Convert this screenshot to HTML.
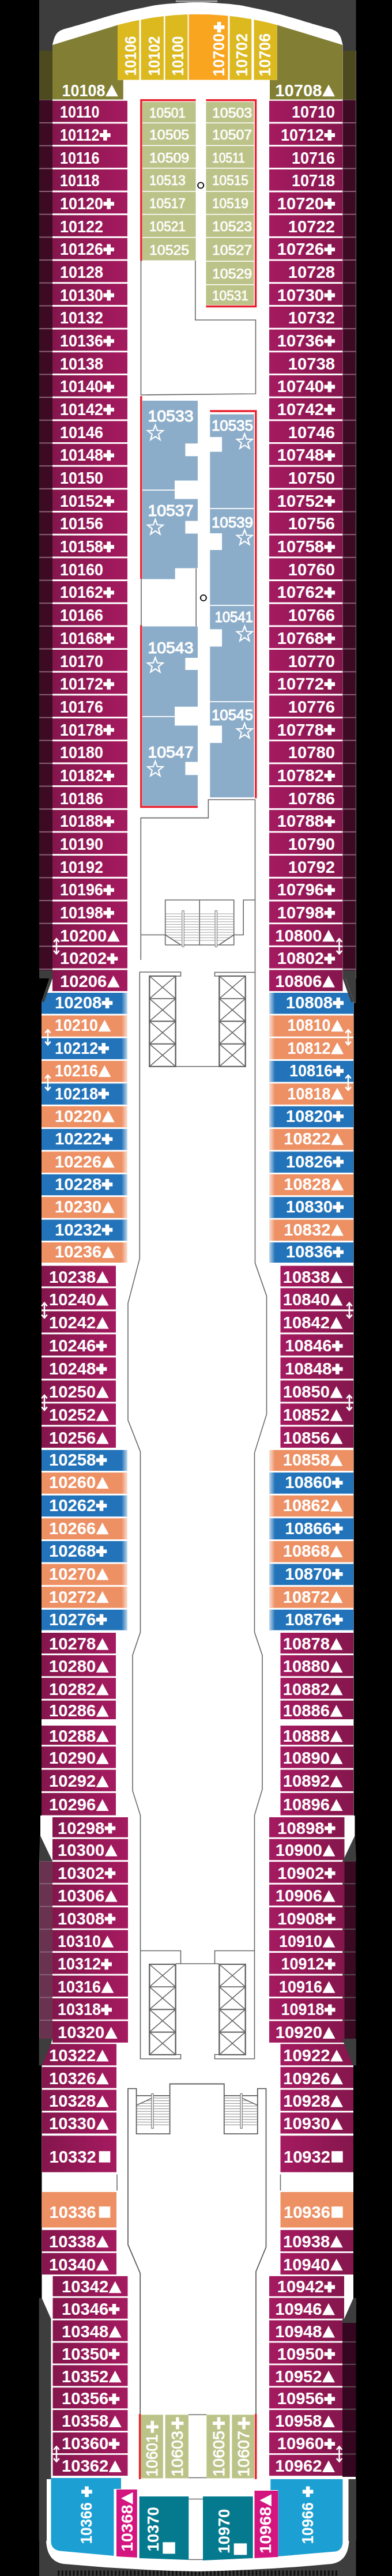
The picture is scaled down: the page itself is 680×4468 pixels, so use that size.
<!DOCTYPE html>
<html><head><meta charset="utf-8"><title>Deck 10</title>
<style>
html,body{margin:0;padding:0;background:#000;}
body{width:680px;height:4468px;overflow:hidden;font-family:"Liberation Sans",sans-serif;}
svg{display:block}
.n{font-family:"Liberation Sans",sans-serif;font-weight:bold;font-size:29.5px;fill:#fff}
.s{font-family:"Liberation Sans",sans-serif;font-weight:normal;font-size:28.4px;fill:#fff;stroke:#fff;stroke-width:1.1}
.s2{font-family:"Liberation Sans",sans-serif;font-weight:normal;font-size:26.5px;fill:#fff;stroke:#fff;stroke-width:1.0}
.v{font-family:"Liberation Sans",sans-serif;font-weight:bold;font-size:28px;fill:#fff}
.g2{fill:none;stroke:#5e5e5e;stroke-width:1.8}
.i{font-family:"Liberation Sans",sans-serif;font-weight:normal;font-size:24px;fill:#fff;stroke:#fff;stroke-width:0.7}
.iv{font-family:"Liberation Sans",sans-serif;font-weight:normal;font-size:27.6px;fill:#fff;stroke:#fff;stroke-width:0.8}
.pv{font-family:"Liberation Sans",sans-serif;font-weight:bold;font-size:22px;fill:#fff}
.g{fill:none;stroke:#686868;stroke-width:1.6}
.r{fill:none;stroke:#e8202f;stroke-width:3.4}
</style></head><body>
<svg width="680" height="4468" viewBox="0 0 680 4468">
<defs>
<linearGradient id="pl" x1="0" x2="1" y1="0" y2="0"><stop offset="0" stop-color="#84164c"/><stop offset="1" stop-color="#a51a60"/></linearGradient>
<linearGradient id="pr" x1="0" x2="1" y1="0" y2="0"><stop offset="0" stop-color="#a51a60"/><stop offset="1" stop-color="#84164c"/></linearGradient>
<linearGradient id="fw" x1="0" x2="1" y1="0" y2="0"><stop offset="0" stop-color="#fff" stop-opacity="0"/><stop offset="1" stop-color="#fff" stop-opacity="0.75"/></linearGradient>
<linearGradient id="fw2" x1="0" x2="1" y1="0" y2="0"><stop offset="0" stop-color="#fff" stop-opacity="0.75"/><stop offset="1" stop-color="#fff" stop-opacity="0"/></linearGradient>
</defs>

<rect x="68" y="0" width="549.5" height="92" fill="#3d3d3d"/>
<rect x="68" y="4296" width="549.5" height="172" fill="#3d3d3d"/>
<rect x="596" y="1690" width="21.5" height="50" fill="#3d3d3d"/>
<path d="M100,4463 L586,4463" stroke="#111" stroke-width="9" stroke-dasharray="3.2 3.4" fill="none"/>
<rect x="304" y="0" width="74" height="4.2" fill="#a6a6a6" stroke="#2a2a2a" stroke-width="1.2"/>
<clipPath id="hc"><path d="M68,88 L91,88 L91,77.5 C91.8,74.9 93.5,66.2 96.0,62.0 C98.5,57.8 99.7,55.5 106.0,52.5 C112.3,49.5 118.2,48.7 134.0,44.0 C149.8,39.3 182.0,29.4 200.5,24.4 C219.0,19.4 231.4,16.8 245.0,14.0 C258.6,11.2 265.7,9.2 282.0,7.5 C298.3,5.8 322.4,4.0 342.7,4.0 C363.0,4.0 387.3,5.8 403.6,7.5 C419.9,9.2 427.0,11.2 440.6,14.0 C454.2,16.8 466.6,19.4 485.1,24.4 C503.6,29.4 535.9,39.3 551.6,44.0 C567.4,48.7 573.3,49.5 579.6,52.5 C585.9,55.5 587.1,57.8 589.6,62.0 C592.1,66.2 593.8,74.9 594.6,77.5 L594.5,88 L617.5,88 L617.5,1697 L599.5,1697 L613.5,1738 L613.5,3149 L615.5,3149 L615.5,3184 L617.0,3226 L617.0,3582 L613.0,3582 L613.0,3943 L613.0,3986 L617.0,4022 L617.0,4406 L605.5,4406 C604.5,4432 593.5,4444 575.5,4447 Q459.5,4458 342.7,4460 Q226,4458 110,4447 C92,4444 81,4432 80,4406 L68.5,4406 L68.5,4022 L72.5,3986 L72.5,3943 L72.5,3582 L68.5,3582 L68.5,3226 L70,3184 L70,3149 L72,3149 L72,1738 L86,1697 L68,1697 L68,88 Z"/></clipPath>
<path d="M68,88 L91,88 L91,77.5 C91.8,74.9 93.5,66.2 96.0,62.0 C98.5,57.8 99.7,55.5 106.0,52.5 C112.3,49.5 118.2,48.7 134.0,44.0 C149.8,39.3 182.0,29.4 200.5,24.4 C219.0,19.4 231.4,16.8 245.0,14.0 C258.6,11.2 265.7,9.2 282.0,7.5 C298.3,5.8 322.4,4.0 342.7,4.0 C363.0,4.0 387.3,5.8 403.6,7.5 C419.9,9.2 427.0,11.2 440.6,14.0 C454.2,16.8 466.6,19.4 485.1,24.4 C503.6,29.4 535.9,39.3 551.6,44.0 C567.4,48.7 573.3,49.5 579.6,52.5 C585.9,55.5 587.1,57.8 589.6,62.0 C592.1,66.2 593.8,74.9 594.6,77.5 L594.5,88 L617.5,88 L617.5,1697 L599.5,1697 L613.5,1738 L613.5,3149 L615.5,3149 L615.5,3184 L617.0,3226 L617.0,3582 L613.0,3582 L613.0,3943 L613.0,3986 L617.0,4022 L617.0,4406 L605.5,4406 C604.5,4432 593.5,4444 575.5,4447 Q459.5,4458 342.7,4460 Q226,4458 110,4447 C92,4444 81,4432 80,4406 L68.5,4406 L68.5,4022 L72.5,3986 L72.5,3943 L72.5,3582 L68.5,3582 L68.5,3226 L70,3184 L70,3149 L72,3149 L72,1738 L86,1697 L68,1697 L68,88 Z" fill="#fff"/>
<path fill="#4d4a20" d="M68,88 L91,88 L91,173 L68,173Z"/>
<path fill="#827f35" d="M91,78 L204,43.5 L204,138.5 L213.8,138.5 L213.8,172.5 L91,172.5Z"/>
<path fill="#4d4a20" d="M617.5,88 L594.5,88 L594.5,173 L617.5,173Z"/>
<path fill="#827f35" d="M594.5,78 L480.5,43.2 L480.5,138.5 L468,138.5 L468,172.5 L594.5,172.5Z"/>
<text x="107.5" y="166.6" class="n" textLength="74.9" lengthAdjust="spacingAndGlyphs">10108</text>
<path fill="#fff" d="M182.9,167.3L193.9,146.8L204.9,167.3z"/>
<path fill="#fff" d="M559.0,167.3L570.0,146.8L581.0,167.3z"/>
<text x="477.3" y="166.6" class="n" textLength="81.2" lengthAdjust="spacingAndGlyphs">10708</text>
<path fill="#dcb91f" d="M204,138.5 L204.0,43.5 L210.2,41.8 L216.5,40.2 L222.8,38.8 L229.0,37.3 L235.2,36.0 L241.5,34.7 L241.5,138.5Z"/>
<path fill="#dcb91f" d="M244.5,138.5 L244.5,34.2 L251.1,32.9 L257.7,31.8 L264.2,30.8 L270.8,29.8 L277.4,28.9 L284.0,28.1 L284,138.5Z"/>
<path fill="#dcb91f" d="M286.5,138.5 L286.5,27.9 L293.0,27.2 L299.5,26.6 L306.0,26.1 L312.5,25.7 L319.0,25.3 L325.5,25.1 L325.5,138.5Z"/>
<path fill="#f9a51f" d="M327.5,138.5 L327.5,25.0 L338.8,24.8 L350.2,24.9 L361.5,25.1 L372.8,25.7 L384.2,26.5 L395.5,27.5 L395.5,138.5Z"/>
<path fill="#dcb91f" d="M398.5,138.5 L398.5,27.8 L404.8,28.5 L411.1,29.3 L417.4,30.2 L423.7,31.2 L430.0,32.2 L436.3,33.3 L436.3,138.5Z"/>
<path fill="#dcb91f" d="M440.5,138.5 L440.5,34.1 L447.2,35.4 L453.8,36.8 L460.5,38.3 L467.2,39.8 L473.8,41.5 L480.5,43.2 L480.5,138.5Z"/>
<text transform="translate(235.8,131.5) rotate(-90)" class="v" textLength="68.9" lengthAdjust="spacingAndGlyphs">10106</text>
<text transform="translate(276.9,131.5) rotate(-90)" class="v" textLength="68.9" lengthAdjust="spacingAndGlyphs">10102</text>
<text transform="translate(317.9,131.5) rotate(-90)" class="v" textLength="68.9" lengthAdjust="spacingAndGlyphs">10100</text>
<text transform="translate(388.9,132.5) rotate(-90)" class="v" textLength="74.7" lengthAdjust="spacingAndGlyphs">10700</text>
<path fill="#fff" d="M370.8,44.0h6.0v-6.0h6.6v6.0h6.0v6.6h-6.0v6.0h-6.6v-6.0h-6.0z"/>
<text transform="translate(428.6,132.5) rotate(-90)" class="v" textLength="74.7" lengthAdjust="spacingAndGlyphs">10702</text>
<text transform="translate(469.3,132.5) rotate(-90)" class="v" textLength="74.7" lengthAdjust="spacingAndGlyphs">10706</text>
<g clip-path="url(#hc)">
<rect x="68" y="173.3" width="23" height="1509.7" fill="#3c0a23"/>
<rect x="68" y="212.0" width="23" height="2" fill="#8a6078"/>
<rect x="68" y="251.7" width="23" height="2" fill="#8a6078"/>
<rect x="68" y="291.3" width="23" height="2" fill="#8a6078"/>
<rect x="68" y="331.0" width="23" height="2" fill="#8a6078"/>
<rect x="68" y="370.7" width="23" height="2" fill="#8a6078"/>
<rect x="68" y="410.4" width="23" height="2" fill="#8a6078"/>
<rect x="68" y="450.0" width="23" height="2" fill="#8a6078"/>
<rect x="68" y="489.7" width="23" height="2" fill="#8a6078"/>
<rect x="68" y="529.4" width="23" height="2" fill="#8a6078"/>
<rect x="68" y="569.1" width="23" height="2" fill="#8a6078"/>
<rect x="68" y="608.7" width="23" height="2" fill="#8a6078"/>
<rect x="68" y="648.4" width="23" height="2" fill="#8a6078"/>
<rect x="68" y="688.1" width="23" height="2" fill="#8a6078"/>
<rect x="68" y="727.8" width="23" height="2" fill="#8a6078"/>
<rect x="68" y="767.4" width="23" height="2" fill="#8a6078"/>
<rect x="68" y="807.1" width="23" height="2" fill="#8a6078"/>
<rect x="68" y="846.8" width="23" height="2" fill="#8a6078"/>
<rect x="68" y="886.5" width="23" height="2" fill="#8a6078"/>
<rect x="68" y="926.2" width="23" height="2" fill="#8a6078"/>
<rect x="68" y="965.8" width="23" height="2" fill="#8a6078"/>
<rect x="68" y="1005.5" width="23" height="2" fill="#8a6078"/>
<rect x="68" y="1045.2" width="23" height="2" fill="#8a6078"/>
<rect x="68" y="1084.9" width="23" height="2" fill="#8a6078"/>
<rect x="68" y="1124.5" width="23" height="2" fill="#8a6078"/>
<rect x="68" y="1164.2" width="23" height="2" fill="#8a6078"/>
<rect x="68" y="1203.9" width="23" height="2" fill="#8a6078"/>
<rect x="68" y="1243.6" width="23" height="2" fill="#8a6078"/>
<rect x="68" y="1283.2" width="23" height="2" fill="#8a6078"/>
<rect x="68" y="1322.9" width="23" height="2" fill="#8a6078"/>
<rect x="68" y="1362.6" width="23" height="2" fill="#8a6078"/>
<rect x="68" y="1402.3" width="23" height="2" fill="#8a6078"/>
<rect x="68" y="1441.9" width="23" height="2" fill="#8a6078"/>
<rect x="68" y="1481.6" width="23" height="2" fill="#8a6078"/>
<rect x="68" y="1521.3" width="23" height="2" fill="#8a6078"/>
<rect x="68" y="1561.0" width="23" height="2" fill="#8a6078"/>
<rect x="68" y="1600.6" width="23" height="2" fill="#8a6078"/>
<rect x="68" y="1640.3" width="23" height="2" fill="#8a6078"/>
<rect x="68" y="1680.0" width="23" height="2" fill="#8a6078"/>
<rect x="68" y="3228.0" width="23" height="308.0" fill="#693350"/>
<rect x="68" y="3226.7" width="23" height="2" fill="#8a6078"/>
<rect x="68" y="3266.2" width="23" height="2" fill="#8a6078"/>
<rect x="68" y="3305.7" width="23" height="2" fill="#8a6078"/>
<rect x="68" y="3345.1" width="23" height="2" fill="#8a6078"/>
<rect x="68" y="3384.6" width="23" height="2" fill="#8a6078"/>
<rect x="68" y="3424.1" width="23" height="2" fill="#8a6078"/>
<rect x="68" y="3463.6" width="23" height="2" fill="#8a6078"/>
<rect x="68" y="3503.0" width="23" height="2" fill="#8a6078"/>
<rect x="594.5" y="173.3" width="23" height="1509.7" fill="#3c0a23"/>
<rect x="594.5" y="212.0" width="23" height="2" fill="#8a6078"/>
<rect x="594.5" y="251.7" width="23" height="2" fill="#8a6078"/>
<rect x="594.5" y="291.3" width="23" height="2" fill="#8a6078"/>
<rect x="594.5" y="331.0" width="23" height="2" fill="#8a6078"/>
<rect x="594.5" y="370.7" width="23" height="2" fill="#8a6078"/>
<rect x="594.5" y="410.4" width="23" height="2" fill="#8a6078"/>
<rect x="594.5" y="450.0" width="23" height="2" fill="#8a6078"/>
<rect x="594.5" y="489.7" width="23" height="2" fill="#8a6078"/>
<rect x="594.5" y="529.4" width="23" height="2" fill="#8a6078"/>
<rect x="594.5" y="569.1" width="23" height="2" fill="#8a6078"/>
<rect x="594.5" y="608.7" width="23" height="2" fill="#8a6078"/>
<rect x="594.5" y="648.4" width="23" height="2" fill="#8a6078"/>
<rect x="594.5" y="688.1" width="23" height="2" fill="#8a6078"/>
<rect x="594.5" y="727.8" width="23" height="2" fill="#8a6078"/>
<rect x="594.5" y="767.4" width="23" height="2" fill="#8a6078"/>
<rect x="594.5" y="807.1" width="23" height="2" fill="#8a6078"/>
<rect x="594.5" y="846.8" width="23" height="2" fill="#8a6078"/>
<rect x="594.5" y="886.5" width="23" height="2" fill="#8a6078"/>
<rect x="594.5" y="926.2" width="23" height="2" fill="#8a6078"/>
<rect x="594.5" y="965.8" width="23" height="2" fill="#8a6078"/>
<rect x="594.5" y="1005.5" width="23" height="2" fill="#8a6078"/>
<rect x="594.5" y="1045.2" width="23" height="2" fill="#8a6078"/>
<rect x="594.5" y="1084.9" width="23" height="2" fill="#8a6078"/>
<rect x="594.5" y="1124.5" width="23" height="2" fill="#8a6078"/>
<rect x="594.5" y="1164.2" width="23" height="2" fill="#8a6078"/>
<rect x="594.5" y="1203.9" width="23" height="2" fill="#8a6078"/>
<rect x="594.5" y="1243.6" width="23" height="2" fill="#8a6078"/>
<rect x="594.5" y="1283.2" width="23" height="2" fill="#8a6078"/>
<rect x="594.5" y="1322.9" width="23" height="2" fill="#8a6078"/>
<rect x="594.5" y="1362.6" width="23" height="2" fill="#8a6078"/>
<rect x="594.5" y="1402.3" width="23" height="2" fill="#8a6078"/>
<rect x="594.5" y="1441.9" width="23" height="2" fill="#8a6078"/>
<rect x="594.5" y="1481.6" width="23" height="2" fill="#8a6078"/>
<rect x="594.5" y="1521.3" width="23" height="2" fill="#8a6078"/>
<rect x="594.5" y="1561.0" width="23" height="2" fill="#8a6078"/>
<rect x="594.5" y="1600.6" width="23" height="2" fill="#8a6078"/>
<rect x="594.5" y="1640.3" width="23" height="2" fill="#8a6078"/>
<rect x="594.5" y="1680.0" width="23" height="2" fill="#8a6078"/>
<rect x="594.5" y="3228.0" width="23" height="308.0" fill="#3a0a22"/>
<rect x="594.5" y="3226.7" width="23" height="2" fill="#5a4a52"/>
<rect x="594.5" y="3266.2" width="23" height="2" fill="#5a4a52"/>
<rect x="594.5" y="3305.7" width="23" height="2" fill="#5a4a52"/>
<rect x="594.5" y="3345.1" width="23" height="2" fill="#5a4a52"/>
<rect x="594.5" y="3384.6" width="23" height="2" fill="#5a4a52"/>
<rect x="594.5" y="3424.1" width="23" height="2" fill="#5a4a52"/>
<rect x="594.5" y="3463.6" width="23" height="2" fill="#5a4a52"/>
<rect x="594.5" y="3503.0" width="23" height="2" fill="#5a4a52"/>
<rect x="91.0" y="174.8" width="130.0" height="36.7" fill="url(#pl)"/>
<rect x="91.0" y="214.5" width="130.0" height="36.7" fill="url(#pl)"/>
<rect x="91.0" y="254.2" width="130.0" height="36.7" fill="url(#pl)"/>
<rect x="91.0" y="293.8" width="130.0" height="36.7" fill="url(#pl)"/>
<rect x="91.0" y="333.5" width="130.0" height="36.7" fill="url(#pl)"/>
<rect x="91.0" y="373.2" width="130.0" height="36.7" fill="url(#pl)"/>
<rect x="91.0" y="412.9" width="130.0" height="36.7" fill="url(#pl)"/>
<rect x="91.0" y="452.5" width="130.0" height="36.7" fill="url(#pl)"/>
<rect x="91.0" y="492.2" width="130.0" height="36.7" fill="url(#pl)"/>
<rect x="91.0" y="531.9" width="130.0" height="36.7" fill="url(#pl)"/>
<rect x="91.0" y="571.6" width="130.0" height="36.7" fill="url(#pl)"/>
<rect x="91.0" y="611.2" width="130.0" height="36.7" fill="url(#pl)"/>
<rect x="91.0" y="650.9" width="130.0" height="36.7" fill="url(#pl)"/>
<rect x="91.0" y="690.6" width="130.0" height="36.7" fill="url(#pl)"/>
<rect x="91.0" y="730.3" width="130.0" height="36.7" fill="url(#pl)"/>
<rect x="91.0" y="769.9" width="130.0" height="36.7" fill="url(#pl)"/>
<rect x="91.0" y="809.6" width="130.0" height="36.7" fill="url(#pl)"/>
<rect x="91.0" y="849.3" width="130.0" height="36.7" fill="url(#pl)"/>
<rect x="91.0" y="889.0" width="130.0" height="36.7" fill="url(#pl)"/>
<rect x="91.0" y="928.7" width="130.0" height="36.7" fill="url(#pl)"/>
<rect x="91.0" y="968.3" width="130.0" height="36.7" fill="url(#pl)"/>
<rect x="91.0" y="1008.0" width="130.0" height="36.7" fill="url(#pl)"/>
<rect x="91.0" y="1047.7" width="130.0" height="36.7" fill="url(#pl)"/>
<rect x="91.0" y="1087.4" width="130.0" height="36.7" fill="url(#pl)"/>
<rect x="91.0" y="1127.0" width="130.0" height="36.7" fill="url(#pl)"/>
<rect x="91.0" y="1166.7" width="130.0" height="36.7" fill="url(#pl)"/>
<rect x="91.0" y="1206.4" width="130.0" height="36.7" fill="url(#pl)"/>
<rect x="91.0" y="1246.1" width="130.0" height="36.7" fill="url(#pl)"/>
<rect x="91.0" y="1285.7" width="130.0" height="36.7" fill="url(#pl)"/>
<rect x="91.0" y="1325.4" width="130.0" height="36.7" fill="url(#pl)"/>
<rect x="91.0" y="1365.1" width="130.0" height="36.7" fill="url(#pl)"/>
<rect x="91.0" y="1404.8" width="130.0" height="36.7" fill="url(#pl)"/>
<rect x="91.0" y="1444.4" width="130.0" height="36.7" fill="url(#pl)"/>
<rect x="91.0" y="1484.1" width="130.0" height="36.7" fill="url(#pl)"/>
<rect x="91.0" y="1523.8" width="130.0" height="36.7" fill="url(#pl)"/>
<rect x="91.0" y="1563.5" width="130.0" height="36.7" fill="url(#pl)"/>
<rect x="91.0" y="1603.1" width="130.0" height="36.7" fill="url(#pl)"/>
<rect x="91.0" y="1642.8" width="130.0" height="36.7" fill="url(#pl)"/>
<rect x="91.0" y="1682.5" width="130.0" height="36.5" fill="url(#pl)"/>
<rect x="72.0" y="1722.0" width="149.0" height="36.4" fill="#2273b9"/>
<rect x="72.0" y="1761.4" width="149.0" height="36.4" fill="#ed9064"/>
<rect x="72.0" y="1800.7" width="149.0" height="36.4" fill="#2273b9"/>
<rect x="72.0" y="1840.1" width="149.0" height="36.4" fill="#ed9064"/>
<rect x="72.0" y="1879.4" width="149.0" height="36.4" fill="#2273b9"/>
<rect x="72.0" y="1918.8" width="149.0" height="36.4" fill="#ed9064"/>
<rect x="72.0" y="1958.1" width="149.0" height="36.4" fill="#2273b9"/>
<rect x="72.0" y="1997.5" width="149.0" height="36.4" fill="#ed9064"/>
<rect x="72.0" y="2036.8" width="149.0" height="36.4" fill="#2273b9"/>
<rect x="72.0" y="2076.2" width="149.0" height="36.4" fill="#ed9064"/>
<rect x="72.0" y="2115.5" width="149.0" height="36.4" fill="#2273b9"/>
<rect x="72.0" y="2154.9" width="149.0" height="35.1" fill="#ed9064"/>
<rect x="72.0" y="2195.5" width="129.0" height="35.8" fill="url(#pl)"/>
<rect x="72.0" y="2234.3" width="129.0" height="37.0" fill="url(#pl)"/>
<rect x="72.0" y="2274.3" width="129.0" height="37.0" fill="url(#pl)"/>
<rect x="72.0" y="2314.3" width="129.0" height="37.0" fill="url(#pl)"/>
<rect x="72.0" y="2354.4" width="129.0" height="37.0" fill="url(#pl)"/>
<rect x="72.0" y="2394.4" width="129.0" height="37.0" fill="url(#pl)"/>
<rect x="72.0" y="2434.4" width="129.0" height="37.0" fill="url(#pl)"/>
<rect x="72.0" y="2474.5" width="129.0" height="36.5" fill="url(#pl)"/>
<rect x="72.0" y="2515.0" width="149.0" height="36.1" fill="#2273b9"/>
<rect x="72.0" y="2554.1" width="149.0" height="36.6" fill="#ed9064"/>
<rect x="72.0" y="2593.8" width="149.0" height="36.6" fill="#2273b9"/>
<rect x="72.0" y="2633.4" width="149.0" height="36.6" fill="#ed9064"/>
<rect x="72.0" y="2673.0" width="149.0" height="36.6" fill="#2273b9"/>
<rect x="72.0" y="2712.6" width="149.0" height="36.6" fill="#ed9064"/>
<rect x="72.0" y="2752.2" width="149.0" height="36.6" fill="#ed9064"/>
<rect x="72.0" y="2791.9" width="149.0" height="35.6" fill="#2273b9"/>
<rect x="72.0" y="2832.0" width="129.0" height="35.9" fill="url(#pl)"/>
<rect x="72.0" y="2870.9" width="129.0" height="36.4" fill="url(#pl)"/>
<rect x="72.0" y="2910.2" width="129.0" height="36.4" fill="url(#pl)"/>
<rect x="72.0" y="2949.6" width="129.0" height="32.4" fill="url(#pl)"/>
<rect x="72.0" y="2993.0" width="129.0" height="33.3" fill="url(#pl)"/>
<rect x="72.0" y="3029.3" width="129.0" height="37.3" fill="url(#pl)"/>
<rect x="72.0" y="3069.6" width="129.0" height="37.3" fill="url(#pl)"/>
<rect x="72.0" y="3109.9" width="129.0" height="38.6" fill="url(#pl)"/>
<rect x="91.0" y="3152.0" width="131.0" height="34.7" fill="url(#pl)"/>
<rect x="91.0" y="3189.7" width="131.0" height="36.5" fill="url(#pl)"/>
<rect x="91.0" y="3229.2" width="131.0" height="36.5" fill="url(#pl)"/>
<rect x="91.0" y="3268.7" width="131.0" height="36.5" fill="url(#pl)"/>
<rect x="91.0" y="3308.2" width="131.0" height="36.5" fill="url(#pl)"/>
<rect x="91.0" y="3347.6" width="131.0" height="36.5" fill="url(#pl)"/>
<rect x="91.0" y="3387.1" width="131.0" height="36.5" fill="url(#pl)"/>
<rect x="91.0" y="3426.6" width="131.0" height="36.5" fill="url(#pl)"/>
<rect x="91.0" y="3466.1" width="131.0" height="36.5" fill="url(#pl)"/>
<rect x="91.0" y="3505.5" width="131.0" height="37.3" fill="url(#pl)"/>
<rect x="72.0" y="3545.2" width="130.0" height="37.1" fill="url(#pl)"/>
<rect x="72.0" y="3585.2" width="130.0" height="36.4" fill="url(#pl)"/>
<rect x="72.0" y="3624.7" width="130.0" height="36.4" fill="url(#pl)"/>
<rect x="72.0" y="3664.1" width="130.0" height="36.4" fill="url(#pl)"/>
<rect x="467.0" y="174.8" width="127.5" height="36.7" fill="url(#pr)"/>
<rect x="467.0" y="214.5" width="127.5" height="36.7" fill="url(#pr)"/>
<rect x="467.0" y="254.2" width="127.5" height="36.7" fill="url(#pr)"/>
<rect x="467.0" y="293.8" width="127.5" height="36.7" fill="url(#pr)"/>
<rect x="467.0" y="333.5" width="127.5" height="36.7" fill="url(#pr)"/>
<rect x="467.0" y="373.2" width="127.5" height="36.7" fill="url(#pr)"/>
<rect x="467.0" y="412.9" width="127.5" height="36.7" fill="url(#pr)"/>
<rect x="467.0" y="452.5" width="127.5" height="36.7" fill="url(#pr)"/>
<rect x="467.0" y="492.2" width="127.5" height="36.7" fill="url(#pr)"/>
<rect x="467.0" y="531.9" width="127.5" height="36.7" fill="url(#pr)"/>
<rect x="467.0" y="571.6" width="127.5" height="36.7" fill="url(#pr)"/>
<rect x="467.0" y="611.2" width="127.5" height="36.7" fill="url(#pr)"/>
<rect x="467.0" y="650.9" width="127.5" height="36.7" fill="url(#pr)"/>
<rect x="467.0" y="690.6" width="127.5" height="36.7" fill="url(#pr)"/>
<rect x="467.0" y="730.3" width="127.5" height="36.7" fill="url(#pr)"/>
<rect x="467.0" y="769.9" width="127.5" height="36.7" fill="url(#pr)"/>
<rect x="467.0" y="809.6" width="127.5" height="36.7" fill="url(#pr)"/>
<rect x="467.0" y="849.3" width="127.5" height="36.7" fill="url(#pr)"/>
<rect x="467.0" y="889.0" width="127.5" height="36.7" fill="url(#pr)"/>
<rect x="467.0" y="928.7" width="127.5" height="36.7" fill="url(#pr)"/>
<rect x="467.0" y="968.3" width="127.5" height="36.7" fill="url(#pr)"/>
<rect x="467.0" y="1008.0" width="127.5" height="36.7" fill="url(#pr)"/>
<rect x="467.0" y="1047.7" width="127.5" height="36.7" fill="url(#pr)"/>
<rect x="467.0" y="1087.4" width="127.5" height="36.7" fill="url(#pr)"/>
<rect x="467.0" y="1127.0" width="127.5" height="36.7" fill="url(#pr)"/>
<rect x="467.0" y="1166.7" width="127.5" height="36.7" fill="url(#pr)"/>
<rect x="467.0" y="1206.4" width="127.5" height="36.7" fill="url(#pr)"/>
<rect x="467.0" y="1246.1" width="127.5" height="36.7" fill="url(#pr)"/>
<rect x="467.0" y="1285.7" width="127.5" height="36.7" fill="url(#pr)"/>
<rect x="467.0" y="1325.4" width="127.5" height="36.7" fill="url(#pr)"/>
<rect x="467.0" y="1365.1" width="127.5" height="36.7" fill="url(#pr)"/>
<rect x="467.0" y="1404.8" width="127.5" height="36.7" fill="url(#pr)"/>
<rect x="467.0" y="1444.4" width="127.5" height="36.7" fill="url(#pr)"/>
<rect x="467.0" y="1484.1" width="127.5" height="36.7" fill="url(#pr)"/>
<rect x="467.0" y="1523.8" width="127.5" height="36.7" fill="url(#pr)"/>
<rect x="467.0" y="1563.5" width="127.5" height="36.7" fill="url(#pr)"/>
<rect x="467.0" y="1603.1" width="127.5" height="36.7" fill="url(#pr)"/>
<rect x="467.0" y="1642.8" width="127.5" height="36.7" fill="url(#pr)"/>
<rect x="467.0" y="1682.5" width="127.5" height="36.5" fill="url(#pr)"/>
<rect x="467.0" y="1722.0" width="146.5" height="36.4" fill="#2273b9"/>
<rect x="467.0" y="1761.4" width="146.5" height="36.4" fill="#ed9064"/>
<rect x="467.0" y="1800.7" width="146.5" height="36.4" fill="#ed9064"/>
<rect x="467.0" y="1840.1" width="146.5" height="36.4" fill="#2273b9"/>
<rect x="467.0" y="1879.4" width="146.5" height="36.4" fill="#ed9064"/>
<rect x="467.0" y="1918.8" width="146.5" height="36.4" fill="#2273b9"/>
<rect x="467.0" y="1958.1" width="146.5" height="36.4" fill="#ed9064"/>
<rect x="467.0" y="1997.5" width="146.5" height="36.4" fill="#2273b9"/>
<rect x="467.0" y="2036.8" width="146.5" height="36.4" fill="#ed9064"/>
<rect x="467.0" y="2076.2" width="146.5" height="36.4" fill="#2273b9"/>
<rect x="467.0" y="2115.5" width="146.5" height="36.4" fill="#ed9064"/>
<rect x="467.0" y="2154.9" width="146.5" height="35.1" fill="#2273b9"/>
<rect x="486.5" y="2195.5" width="127.0" height="35.8" fill="url(#pr)"/>
<rect x="486.5" y="2234.3" width="127.0" height="37.0" fill="url(#pr)"/>
<rect x="486.5" y="2274.3" width="127.0" height="37.0" fill="url(#pr)"/>
<rect x="486.5" y="2314.3" width="127.0" height="37.0" fill="url(#pr)"/>
<rect x="486.5" y="2354.4" width="127.0" height="37.0" fill="url(#pr)"/>
<rect x="486.5" y="2394.4" width="127.0" height="37.0" fill="url(#pr)"/>
<rect x="486.5" y="2434.4" width="127.0" height="37.0" fill="url(#pr)"/>
<rect x="486.5" y="2474.5" width="127.0" height="36.5" fill="url(#pr)"/>
<rect x="467.0" y="2515.0" width="146.5" height="36.1" fill="#ed9064"/>
<rect x="467.0" y="2554.1" width="146.5" height="36.6" fill="#2273b9"/>
<rect x="467.0" y="2593.8" width="146.5" height="36.6" fill="#ed9064"/>
<rect x="467.0" y="2633.4" width="146.5" height="36.6" fill="#2273b9"/>
<rect x="467.0" y="2673.0" width="146.5" height="36.6" fill="#ed9064"/>
<rect x="467.0" y="2712.6" width="146.5" height="36.6" fill="#2273b9"/>
<rect x="467.0" y="2752.2" width="146.5" height="36.6" fill="#ed9064"/>
<rect x="467.0" y="2791.9" width="146.5" height="35.6" fill="#2273b9"/>
<rect x="486.5" y="2832.0" width="127.0" height="35.9" fill="url(#pr)"/>
<rect x="486.5" y="2870.9" width="127.0" height="36.4" fill="url(#pr)"/>
<rect x="486.5" y="2910.2" width="127.0" height="36.4" fill="url(#pr)"/>
<rect x="486.5" y="2949.6" width="127.0" height="32.4" fill="url(#pr)"/>
<rect x="486.5" y="2993.0" width="127.0" height="33.3" fill="url(#pr)"/>
<rect x="486.5" y="3029.3" width="127.0" height="37.3" fill="url(#pr)"/>
<rect x="486.5" y="3069.6" width="127.0" height="37.3" fill="url(#pr)"/>
<rect x="486.5" y="3109.9" width="127.0" height="38.6" fill="url(#pr)"/>
<rect x="467.0" y="3152.0" width="130.5" height="34.7" fill="url(#pr)"/>
<rect x="467.0" y="3189.7" width="130.5" height="36.5" fill="url(#pr)"/>
<rect x="467.0" y="3229.2" width="130.5" height="36.5" fill="url(#pr)"/>
<rect x="467.0" y="3268.7" width="130.5" height="36.5" fill="url(#pr)"/>
<rect x="467.0" y="3308.2" width="130.5" height="36.5" fill="url(#pr)"/>
<rect x="467.0" y="3347.6" width="130.5" height="36.5" fill="url(#pr)"/>
<rect x="467.0" y="3387.1" width="130.5" height="36.5" fill="url(#pr)"/>
<rect x="467.0" y="3426.6" width="130.5" height="36.5" fill="url(#pr)"/>
<rect x="467.0" y="3466.1" width="130.5" height="36.5" fill="url(#pr)"/>
<rect x="467.0" y="3505.5" width="130.5" height="37.3" fill="url(#pr)"/>
<rect x="486.5" y="3545.2" width="127.0" height="37.1" fill="url(#pr)"/>
<rect x="486.5" y="3585.2" width="127.0" height="36.4" fill="url(#pr)"/>
<rect x="486.5" y="3624.7" width="127.0" height="36.4" fill="url(#pr)"/>
<rect x="486.5" y="3664.1" width="127.0" height="36.4" fill="url(#pr)"/>
<rect x="211" y="1722.0" width="10.5" height="36.4" fill="url(#fw)"/>
<rect x="211" y="1761.4" width="10.5" height="36.4" fill="url(#fw)"/>
<rect x="211" y="1800.7" width="10.5" height="36.4" fill="url(#fw)"/>
<rect x="211" y="1840.1" width="10.5" height="36.4" fill="url(#fw)"/>
<rect x="211" y="1879.4" width="10.5" height="36.4" fill="url(#fw)"/>
<rect x="211" y="1918.8" width="10.5" height="36.4" fill="url(#fw)"/>
<rect x="211" y="1958.1" width="10.5" height="36.4" fill="url(#fw)"/>
<rect x="211" y="1997.5" width="10.5" height="36.4" fill="url(#fw)"/>
<rect x="211" y="2036.8" width="10.5" height="36.4" fill="url(#fw)"/>
<rect x="211" y="2076.2" width="10.5" height="36.4" fill="url(#fw)"/>
<rect x="211" y="2115.5" width="10.5" height="36.4" fill="url(#fw)"/>
<rect x="211" y="2154.9" width="10.5" height="35.1" fill="url(#fw)"/>
<rect x="211" y="2515.0" width="10.5" height="36.1" fill="url(#fw)"/>
<rect x="211" y="2554.1" width="10.5" height="36.6" fill="url(#fw)"/>
<rect x="211" y="2593.8" width="10.5" height="36.6" fill="url(#fw)"/>
<rect x="211" y="2633.4" width="10.5" height="36.6" fill="url(#fw)"/>
<rect x="211" y="2673.0" width="10.5" height="36.6" fill="url(#fw)"/>
<rect x="211" y="2712.6" width="10.5" height="36.6" fill="url(#fw)"/>
<rect x="211" y="2752.2" width="10.5" height="36.6" fill="url(#fw)"/>
<rect x="211" y="2791.9" width="10.5" height="35.6" fill="url(#fw)"/>
<rect x="466.5" y="1722.0" width="10.5" height="36.4" fill="url(#fw2)"/>
<rect x="466.5" y="1761.4" width="10.5" height="36.4" fill="url(#fw2)"/>
<rect x="466.5" y="1800.7" width="10.5" height="36.4" fill="url(#fw2)"/>
<rect x="466.5" y="1840.1" width="10.5" height="36.4" fill="url(#fw2)"/>
<rect x="466.5" y="1879.4" width="10.5" height="36.4" fill="url(#fw2)"/>
<rect x="466.5" y="1918.8" width="10.5" height="36.4" fill="url(#fw2)"/>
<rect x="466.5" y="1958.1" width="10.5" height="36.4" fill="url(#fw2)"/>
<rect x="466.5" y="1997.5" width="10.5" height="36.4" fill="url(#fw2)"/>
<rect x="466.5" y="2036.8" width="10.5" height="36.4" fill="url(#fw2)"/>
<rect x="466.5" y="2076.2" width="10.5" height="36.4" fill="url(#fw2)"/>
<rect x="466.5" y="2115.5" width="10.5" height="36.4" fill="url(#fw2)"/>
<rect x="466.5" y="2154.9" width="10.5" height="35.1" fill="url(#fw2)"/>
<rect x="466.5" y="2515.0" width="10.5" height="36.1" fill="url(#fw2)"/>
<rect x="466.5" y="2554.1" width="10.5" height="36.6" fill="url(#fw2)"/>
<rect x="466.5" y="2593.8" width="10.5" height="36.6" fill="url(#fw2)"/>
<rect x="466.5" y="2633.4" width="10.5" height="36.6" fill="url(#fw2)"/>
<rect x="466.5" y="2673.0" width="10.5" height="36.6" fill="url(#fw2)"/>
<rect x="466.5" y="2712.6" width="10.5" height="36.6" fill="url(#fw2)"/>
<rect x="466.5" y="2752.2" width="10.5" height="36.6" fill="url(#fw2)"/>
<rect x="466.5" y="2791.9" width="10.5" height="35.6" fill="url(#fw2)"/>
<rect x="72" y="3704.3" width="130" height="63.29999999999973" fill="url(#pl)"/>
<rect x="69.5" y="3802" width="132.5" height="61.5" fill="#ed9064"/>
<rect x="72" y="3867.9" width="130" height="37.09999999999991" fill="url(#pl)"/>
<rect x="72" y="3907.8" width="130" height="37.29999999999973" fill="url(#pl)"/>
<rect x="91.5" y="3947.9" width="130.0" height="34.899999999999636" fill="url(#pl)"/>
<rect x="91.5" y="3985.6" width="130.0" height="36.09999999999991" fill="url(#pl)"/>
<rect x="91.5" y="4024.5" width="130.0" height="36.09999999999991" fill="url(#pl)"/>
<rect x="91.5" y="4063.4" width="130.0" height="36.09999999999991" fill="url(#pl)"/>
<rect x="91.5" y="4102.299999999999" width="130.0" height="36.10000000000127" fill="url(#pl)"/>
<rect x="91.5" y="4141.2" width="130.0" height="36.100000000000364" fill="url(#pl)"/>
<rect x="91.5" y="4180.099999999999" width="130.0" height="36.10000000000127" fill="url(#pl)"/>
<rect x="91.5" y="4219.0" width="130.0" height="36.100000000000364" fill="url(#pl)"/>
<rect x="91.5" y="4257.9" width="130.0" height="36.20000000000073" fill="url(#pl)"/>
<rect x="486.5" y="3704.3" width="127.0" height="63.29999999999973" fill="url(#pr)"/>
<rect x="486.5" y="3802" width="127.0" height="61.5" fill="#ed9064"/>
<rect x="486.5" y="3867.9" width="127.0" height="37.09999999999991" fill="url(#pr)"/>
<rect x="486.5" y="3907.8" width="127.0" height="37.29999999999973" fill="url(#pr)"/>
<rect x="467" y="3947.9" width="130.0" height="34.899999999999636" fill="url(#pr)"/>
<rect x="467" y="3985.6" width="130.0" height="36.09999999999991" fill="url(#pr)"/>
<rect x="467" y="4024.5" width="127.0" height="36.09999999999991" fill="url(#pr)"/>
<rect x="467" y="4063.4" width="127.0" height="36.09999999999991" fill="url(#pr)"/>
<rect x="467" y="4102.299999999999" width="127.0" height="36.10000000000127" fill="url(#pr)"/>
<rect x="467" y="4141.2" width="127.0" height="36.100000000000364" fill="url(#pr)"/>
<rect x="467" y="4180.099999999999" width="127.0" height="36.10000000000127" fill="url(#pr)"/>
<rect x="467" y="4219.0" width="127.0" height="36.100000000000364" fill="url(#pr)"/>
<rect x="467" y="4257.9" width="127.0" height="36.20000000000073" fill="url(#pr)"/>
</g>
<polygon fill="#3d3d3d" points="68.0,1683.0 91.0,1683.0 91.0,1697.0 76.5,1738.0 72.0,1738.0 86.0,1697.0 68.0,1697.0"/>
<polygon fill="#3d3d3d" points="69.4,3184.0 70.0,3184.0 90.0,3226.0 91.0,3228.0 67.6,3228.0 67.6,3226.0"/>
<polygon fill="#3d3d3d" points="67.6,3536.0 91.0,3536.0 88.5,3545.0 73.0,3582.6 67.6,3582.6"/>
<polygon fill="#3d3d3d" points="67.6,3986.0 72.5,3986.0 88.5,4022.0 88.5,4300.0 67.6,4300.0"/>
<polygon fill="#3d3d3d" points="67.6,4300.0 81.0,4300.0 81.0,4407.0 67.6,4407.0"/>
<polygon fill="#3d3d3d" points="617.5,1683.0 594.5,1683.0 594.5,1697.0 609.0,1738.0 613.5,1738.0 599.5,1697.0 617.5,1697.0"/>
<polygon fill="#3d3d3d" points="616.1,3184.0 615.5,3184.0 595.5,3226.0 594.5,3228.0 617.9,3228.0 617.9,3226.0"/>
<polygon fill="#3d3d3d" points="617.9,3536.0 594.5,3536.0 597.0,3545.0 612.5,3582.6 617.9,3582.6"/>
<polygon fill="#3d3d3d" points="617.9,3986.0 613.0,3986.0 597.0,4022.0 594.0,4022.0 594.0,4029.0 617.9,4029.0"/>
<rect x="594" y="4029" width="23.5" height="267" fill="#34061f"/>
<rect x="594" y="4061.0" width="23.5" height="2" fill="#5a4a52"/>
<rect x="594" y="4099.9" width="23.5" height="2" fill="#5a4a52"/>
<rect x="594" y="4138.8" width="23.5" height="2" fill="#5a4a52"/>
<rect x="594" y="4177.7" width="23.5" height="2" fill="#5a4a52"/>
<rect x="594" y="4216.6" width="23.5" height="2" fill="#5a4a52"/>
<rect x="594" y="4255.5" width="23.5" height="2" fill="#5a4a52"/>
<polygon fill="#3d3d3d" points="617.9,4300.0 604.5,4300.0 604.5,4407.0 617.9,4407.0"/>
<text x="104" y="204.2" class="n" textLength="68.6" lengthAdjust="spacingAndGlyphs">10110</text>
<text x="104" y="243.9" class="n" textLength="68.6" lengthAdjust="spacingAndGlyphs">10112</text>
<path fill="#fff" d="M173.1,231.1h6.0v-6.0h6.6v6.0h6.0v6.6h-6.0v6.0h-6.6v-6.0h-6.0z"/>
<text x="104" y="283.6" class="n" textLength="68.6" lengthAdjust="spacingAndGlyphs">10116</text>
<text x="104" y="323.3" class="n" textLength="68.6" lengthAdjust="spacingAndGlyphs">10118</text>
<text x="104" y="362.9" class="n" textLength="74.9" lengthAdjust="spacingAndGlyphs">10120</text>
<path fill="#fff" d="M179.4,350.1h6.0v-6.0h6.6v6.0h6.0v6.6h-6.0v6.0h-6.6v-6.0h-6.0z"/>
<text x="104" y="402.6" class="n" textLength="74.9" lengthAdjust="spacingAndGlyphs">10122</text>
<text x="104" y="442.3" class="n" textLength="74.9" lengthAdjust="spacingAndGlyphs">10126</text>
<path fill="#fff" d="M179.4,429.5h6.0v-6.0h6.6v6.0h6.0v6.6h-6.0v6.0h-6.6v-6.0h-6.0z"/>
<text x="104" y="482.0" class="n" textLength="74.9" lengthAdjust="spacingAndGlyphs">10128</text>
<text x="104" y="521.6" class="n" textLength="74.9" lengthAdjust="spacingAndGlyphs">10130</text>
<path fill="#fff" d="M179.4,508.8h6.0v-6.0h6.6v6.0h6.0v6.6h-6.0v6.0h-6.6v-6.0h-6.0z"/>
<text x="104" y="561.3" class="n" textLength="74.9" lengthAdjust="spacingAndGlyphs">10132</text>
<text x="104" y="601.0" class="n" textLength="74.9" lengthAdjust="spacingAndGlyphs">10136</text>
<path fill="#fff" d="M179.4,588.2h6.0v-6.0h6.6v6.0h6.0v6.6h-6.0v6.0h-6.6v-6.0h-6.0z"/>
<text x="104" y="640.7" class="n" textLength="74.9" lengthAdjust="spacingAndGlyphs">10138</text>
<text x="104" y="680.4" class="n" textLength="74.9" lengthAdjust="spacingAndGlyphs">10140</text>
<path fill="#fff" d="M179.4,667.6h6.0v-6.0h6.6v6.0h6.0v6.6h-6.0v6.0h-6.6v-6.0h-6.0z"/>
<text x="104" y="720.0" class="n" textLength="74.9" lengthAdjust="spacingAndGlyphs">10142</text>
<path fill="#fff" d="M179.4,707.2h6.0v-6.0h6.6v6.0h6.0v6.6h-6.0v6.0h-6.6v-6.0h-6.0z"/>
<text x="104" y="759.7" class="n" textLength="74.9" lengthAdjust="spacingAndGlyphs">10146</text>
<text x="104" y="799.4" class="n" textLength="74.9" lengthAdjust="spacingAndGlyphs">10148</text>
<path fill="#fff" d="M179.4,786.6h6.0v-6.0h6.6v6.0h6.0v6.6h-6.0v6.0h-6.6v-6.0h-6.0z"/>
<text x="104" y="839.1" class="n" textLength="74.9" lengthAdjust="spacingAndGlyphs">10150</text>
<text x="104" y="878.7" class="n" textLength="74.9" lengthAdjust="spacingAndGlyphs">10152</text>
<path fill="#fff" d="M179.4,865.9h6.0v-6.0h6.6v6.0h6.0v6.6h-6.0v6.0h-6.6v-6.0h-6.0z"/>
<text x="104" y="918.4" class="n" textLength="74.9" lengthAdjust="spacingAndGlyphs">10156</text>
<text x="104" y="958.1" class="n" textLength="74.9" lengthAdjust="spacingAndGlyphs">10158</text>
<path fill="#fff" d="M179.4,945.3h6.0v-6.0h6.6v6.0h6.0v6.6h-6.0v6.0h-6.6v-6.0h-6.0z"/>
<text x="104" y="997.8" class="n" textLength="74.9" lengthAdjust="spacingAndGlyphs">10160</text>
<text x="104" y="1037.4" class="n" textLength="74.9" lengthAdjust="spacingAndGlyphs">10162</text>
<path fill="#fff" d="M179.4,1024.6h6.0v-6.0h6.6v6.0h6.0v6.6h-6.0v6.0h-6.6v-6.0h-6.0z"/>
<text x="104" y="1077.1" class="n" textLength="74.9" lengthAdjust="spacingAndGlyphs">10166</text>
<text x="104" y="1116.8" class="n" textLength="74.9" lengthAdjust="spacingAndGlyphs">10168</text>
<path fill="#fff" d="M179.4,1104.0h6.0v-6.0h6.6v6.0h6.0v6.6h-6.0v6.0h-6.6v-6.0h-6.0z"/>
<text x="104" y="1156.5" class="n" textLength="74.9" lengthAdjust="spacingAndGlyphs">10170</text>
<text x="104" y="1196.1" class="n" textLength="74.9" lengthAdjust="spacingAndGlyphs">10172</text>
<path fill="#fff" d="M179.4,1183.3h6.0v-6.0h6.6v6.0h6.0v6.6h-6.0v6.0h-6.6v-6.0h-6.0z"/>
<text x="104" y="1235.8" class="n" textLength="74.9" lengthAdjust="spacingAndGlyphs">10176</text>
<text x="104" y="1275.5" class="n" textLength="74.9" lengthAdjust="spacingAndGlyphs">10178</text>
<path fill="#fff" d="M179.4,1262.7h6.0v-6.0h6.6v6.0h6.0v6.6h-6.0v6.0h-6.6v-6.0h-6.0z"/>
<text x="104" y="1315.2" class="n" textLength="74.9" lengthAdjust="spacingAndGlyphs">10180</text>
<text x="104" y="1354.9" class="n" textLength="74.9" lengthAdjust="spacingAndGlyphs">10182</text>
<path fill="#fff" d="M179.4,1342.1h6.0v-6.0h6.6v6.0h6.0v6.6h-6.0v6.0h-6.6v-6.0h-6.0z"/>
<text x="104" y="1394.5" class="n" textLength="74.9" lengthAdjust="spacingAndGlyphs">10186</text>
<text x="104" y="1434.2" class="n" textLength="74.9" lengthAdjust="spacingAndGlyphs">10188</text>
<path fill="#fff" d="M179.4,1421.4h6.0v-6.0h6.6v6.0h6.0v6.6h-6.0v6.0h-6.6v-6.0h-6.0z"/>
<text x="104" y="1473.9" class="n" textLength="74.9" lengthAdjust="spacingAndGlyphs">10190</text>
<text x="104" y="1513.6" class="n" textLength="74.9" lengthAdjust="spacingAndGlyphs">10192</text>
<text x="104" y="1553.2" class="n" textLength="74.9" lengthAdjust="spacingAndGlyphs">10196</text>
<path fill="#fff" d="M179.4,1540.4h6.0v-6.0h6.6v6.0h6.0v6.6h-6.0v6.0h-6.6v-6.0h-6.0z"/>
<text x="104" y="1592.9" class="n" textLength="74.9" lengthAdjust="spacingAndGlyphs">10198</text>
<path fill="#fff" d="M179.4,1580.1h6.0v-6.0h6.6v6.0h6.0v6.6h-6.0v6.0h-6.6v-6.0h-6.0z"/>
<text x="104" y="1632.6" class="n" textLength="81.2" lengthAdjust="spacingAndGlyphs">10200</text>
<path fill="#fff" d="M185.7,1633.3L196.7,1612.8L207.7,1633.3z"/>
<text x="104" y="1672.3" class="n" textLength="81.2" lengthAdjust="spacingAndGlyphs">10202</text>
<path fill="#fff" d="M185.7,1659.5h6.0v-6.0h6.6v6.0h6.0v6.6h-6.0v6.0h-6.6v-6.0h-6.0z"/>
<text x="104" y="1711.8" class="n" textLength="81.2" lengthAdjust="spacingAndGlyphs">10206</text>
<path fill="#fff" d="M185.7,1712.6L196.7,1692.1L207.7,1712.6z"/>
<text x="95" y="1749.1" class="n" textLength="81.2" lengthAdjust="spacingAndGlyphs">10208</text>
<path fill="#fff" d="M176.7,1736.3h6.0v-6.0h6.6v6.0h6.0v6.6h-6.0v6.0h-6.6v-6.0h-6.0z"/>
<text x="95" y="1788.4" class="n" textLength="74.9" lengthAdjust="spacingAndGlyphs">10210</text>
<path fill="#fff" d="M170.4,1789.2L181.4,1768.7L192.4,1789.2z"/>
<text x="95" y="1827.8" class="n" textLength="74.9" lengthAdjust="spacingAndGlyphs">10212</text>
<path fill="#fff" d="M170.4,1815.0h6.0v-6.0h6.6v6.0h6.0v6.6h-6.0v6.0h-6.6v-6.0h-6.0z"/>
<text x="95" y="1867.1" class="n" textLength="74.9" lengthAdjust="spacingAndGlyphs">10216</text>
<path fill="#fff" d="M170.4,1867.9L181.4,1847.4L192.4,1867.9z"/>
<text x="95" y="1906.5" class="n" textLength="74.9" lengthAdjust="spacingAndGlyphs">10218</text>
<path fill="#fff" d="M170.4,1893.7h6.0v-6.0h6.6v6.0h6.0v6.6h-6.0v6.0h-6.6v-6.0h-6.0z"/>
<text x="95" y="1945.8" class="n" textLength="81.2" lengthAdjust="spacingAndGlyphs">10220</text>
<path fill="#fff" d="M176.7,1946.6L187.7,1926.1L198.7,1946.6z"/>
<text x="95" y="1985.2" class="n" textLength="81.2" lengthAdjust="spacingAndGlyphs">10222</text>
<path fill="#fff" d="M176.7,1972.4h6.0v-6.0h6.6v6.0h6.0v6.6h-6.0v6.0h-6.6v-6.0h-6.0z"/>
<text x="95" y="2024.6" class="n" textLength="81.2" lengthAdjust="spacingAndGlyphs">10226</text>
<path fill="#fff" d="M176.7,2025.3L187.7,2004.8L198.7,2025.3z"/>
<text x="95" y="2063.9" class="n" textLength="81.2" lengthAdjust="spacingAndGlyphs">10228</text>
<path fill="#fff" d="M176.7,2051.1h6.0v-6.0h6.6v6.0h6.0v6.6h-6.0v6.0h-6.6v-6.0h-6.0z"/>
<text x="95" y="2103.3" class="n" textLength="81.2" lengthAdjust="spacingAndGlyphs">10230</text>
<path fill="#fff" d="M176.7,2104.0L187.7,2083.5L198.7,2104.0z"/>
<text x="95" y="2142.6" class="n" textLength="81.2" lengthAdjust="spacingAndGlyphs">10232</text>
<path fill="#fff" d="M176.7,2129.8h6.0v-6.0h6.6v6.0h6.0v6.6h-6.0v6.0h-6.6v-6.0h-6.0z"/>
<text x="95" y="2181.3" class="n" textLength="81.2" lengthAdjust="spacingAndGlyphs">10236</text>
<path fill="#fff" d="M176.7,2182.1L187.7,2161.6L198.7,2182.1z"/>
<text x="85" y="2224.5" class="n" textLength="81.2" lengthAdjust="spacingAndGlyphs">10238</text>
<path fill="#fff" d="M166.7,2225.2L177.7,2204.7L188.7,2225.2z"/>
<text x="85" y="2263.9" class="n" textLength="81.2" lengthAdjust="spacingAndGlyphs">10240</text>
<path fill="#fff" d="M166.7,2264.6L177.7,2244.1L188.7,2264.6z"/>
<text x="85" y="2303.9" class="n" textLength="81.2" lengthAdjust="spacingAndGlyphs">10242</text>
<path fill="#fff" d="M166.7,2304.7L177.7,2284.2L188.7,2304.7z"/>
<text x="85" y="2344.0" class="n" textLength="81.2" lengthAdjust="spacingAndGlyphs">10246</text>
<path fill="#fff" d="M166.7,2331.2h6.0v-6.0h6.6v6.0h6.0v6.6h-6.0v6.0h-6.6v-6.0h-6.0z"/>
<text x="85" y="2384.0" class="n" textLength="81.2" lengthAdjust="spacingAndGlyphs">10248</text>
<path fill="#fff" d="M166.7,2371.2h6.0v-6.0h6.6v6.0h6.0v6.6h-6.0v6.0h-6.6v-6.0h-6.0z"/>
<text x="85" y="2424.0" class="n" textLength="81.2" lengthAdjust="spacingAndGlyphs">10250</text>
<path fill="#fff" d="M166.7,2424.8L177.7,2404.3L188.7,2424.8z"/>
<text x="85" y="2464.1" class="n" textLength="81.2" lengthAdjust="spacingAndGlyphs">10252</text>
<path fill="#fff" d="M166.7,2464.8L177.7,2444.3L188.7,2464.8z"/>
<text x="85" y="2503.8" class="n" textLength="81.2" lengthAdjust="spacingAndGlyphs">10256</text>
<path fill="#fff" d="M166.7,2504.6L177.7,2484.1L188.7,2504.6z"/>
<text x="85" y="2542.0" class="n" textLength="81.2" lengthAdjust="spacingAndGlyphs">10258</text>
<path fill="#fff" d="M166.7,2529.2h6.0v-6.0h6.6v6.0h6.0v6.6h-6.0v6.0h-6.6v-6.0h-6.0z"/>
<text x="85" y="2581.3" class="n" textLength="81.2" lengthAdjust="spacingAndGlyphs">10260</text>
<path fill="#fff" d="M166.7,2582.1L177.7,2561.6L188.7,2582.1z"/>
<text x="85" y="2621.0" class="n" textLength="81.2" lengthAdjust="spacingAndGlyphs">10262</text>
<path fill="#fff" d="M166.7,2608.2h6.0v-6.0h6.6v6.0h6.0v6.6h-6.0v6.0h-6.6v-6.0h-6.0z"/>
<text x="85" y="2660.6" class="n" textLength="81.2" lengthAdjust="spacingAndGlyphs">10266</text>
<path fill="#fff" d="M166.7,2661.3L177.7,2640.8L188.7,2661.3z"/>
<text x="85" y="2700.2" class="n" textLength="81.2" lengthAdjust="spacingAndGlyphs">10268</text>
<path fill="#fff" d="M166.7,2687.4h6.0v-6.0h6.6v6.0h6.0v6.6h-6.0v6.0h-6.6v-6.0h-6.0z"/>
<text x="85" y="2739.8" class="n" textLength="81.2" lengthAdjust="spacingAndGlyphs">10270</text>
<path fill="#fff" d="M166.7,2740.6L177.7,2720.1L188.7,2740.6z"/>
<text x="85" y="2779.5" class="n" textLength="81.2" lengthAdjust="spacingAndGlyphs">10272</text>
<path fill="#fff" d="M166.7,2780.2L177.7,2759.7L188.7,2780.2z"/>
<text x="85" y="2818.6" class="n" textLength="81.2" lengthAdjust="spacingAndGlyphs">10276</text>
<path fill="#fff" d="M166.7,2805.8h6.0v-6.0h6.6v6.0h6.0v6.6h-6.0v6.0h-6.6v-6.0h-6.0z"/>
<text x="85" y="2861.0" class="n" textLength="81.2" lengthAdjust="spacingAndGlyphs">10278</text>
<path fill="#fff" d="M166.7,2861.8L177.7,2841.3L188.7,2861.8z"/>
<text x="85" y="2900.2" class="n" textLength="81.2" lengthAdjust="spacingAndGlyphs">10280</text>
<path fill="#fff" d="M166.7,2900.9L177.7,2880.4L188.7,2900.9z"/>
<text x="85" y="2939.5" class="n" textLength="81.2" lengthAdjust="spacingAndGlyphs">10282</text>
<path fill="#fff" d="M166.7,2940.3L177.7,2919.8L188.7,2940.3z"/>
<text x="85" y="2976.9" class="n" textLength="81.2" lengthAdjust="spacingAndGlyphs">10286</text>
<path fill="#fff" d="M166.7,2977.7L177.7,2957.2L188.7,2977.7z"/>
<text x="85" y="3020.8" class="n" textLength="81.2" lengthAdjust="spacingAndGlyphs">10288</text>
<path fill="#fff" d="M166.7,3021.5L177.7,3001.0L188.7,3021.5z"/>
<text x="85" y="3059.1" class="n" textLength="81.2" lengthAdjust="spacingAndGlyphs">10290</text>
<path fill="#fff" d="M166.7,3059.8L177.7,3039.3L188.7,3059.8z"/>
<text x="85" y="3099.4" class="n" textLength="81.2" lengthAdjust="spacingAndGlyphs">10292</text>
<path fill="#fff" d="M166.7,3100.1L177.7,3079.6L188.7,3100.1z"/>
<text x="85" y="3140.3" class="n" textLength="81.2" lengthAdjust="spacingAndGlyphs">10296</text>
<path fill="#fff" d="M166.7,3141.1L177.7,3120.6L188.7,3141.1z"/>
<text x="100" y="3180.5" class="n" textLength="81.2" lengthAdjust="spacingAndGlyphs">10298</text>
<path fill="#fff" d="M181.7,3167.7h6.0v-6.0h6.6v6.0h6.0v6.6h-6.0v6.0h-6.6v-6.0h-6.0z"/>
<text x="100" y="3219.1" class="n" textLength="81.2" lengthAdjust="spacingAndGlyphs">10300</text>
<path fill="#fff" d="M181.7,3219.8L192.7,3199.3L203.7,3219.8z"/>
<text x="100" y="3258.5" class="n" textLength="81.2" lengthAdjust="spacingAndGlyphs">10302</text>
<path fill="#fff" d="M181.7,3245.7h6.0v-6.0h6.6v6.0h6.0v6.6h-6.0v6.0h-6.6v-6.0h-6.0z"/>
<text x="100" y="3298.0" class="n" textLength="81.2" lengthAdjust="spacingAndGlyphs">10306</text>
<path fill="#fff" d="M181.7,3298.8L192.7,3278.3L203.7,3298.8z"/>
<text x="100" y="3337.5" class="n" textLength="81.2" lengthAdjust="spacingAndGlyphs">10308</text>
<path fill="#fff" d="M181.7,3324.7h6.0v-6.0h6.6v6.0h6.0v6.6h-6.0v6.0h-6.6v-6.0h-6.0z"/>
<text x="100" y="3377.0" class="n" textLength="74.9" lengthAdjust="spacingAndGlyphs">10310</text>
<path fill="#fff" d="M175.4,3377.7L186.4,3357.2L197.4,3377.7z"/>
<text x="100" y="3416.4" class="n" textLength="74.9" lengthAdjust="spacingAndGlyphs">10312</text>
<path fill="#fff" d="M175.4,3403.6h6.0v-6.0h6.6v6.0h6.0v6.6h-6.0v6.0h-6.6v-6.0h-6.0z"/>
<text x="100" y="3455.9" class="n" textLength="74.9" lengthAdjust="spacingAndGlyphs">10316</text>
<path fill="#fff" d="M175.4,3456.7L186.4,3436.2L197.4,3456.7z"/>
<text x="100" y="3495.4" class="n" textLength="74.9" lengthAdjust="spacingAndGlyphs">10318</text>
<path fill="#fff" d="M175.4,3482.6h6.0v-6.0h6.6v6.0h6.0v6.6h-6.0v6.0h-6.6v-6.0h-6.0z"/>
<text x="100" y="3535.3" class="n" textLength="81.2" lengthAdjust="spacingAndGlyphs">10320</text>
<path fill="#fff" d="M181.7,3536.0L192.7,3515.5L203.7,3536.0z"/>
<text x="85" y="3574.8" class="n" textLength="81.2" lengthAdjust="spacingAndGlyphs">10322</text>
<path fill="#fff" d="M166.7,3575.6L177.7,3555.1L188.7,3575.6z"/>
<text x="85" y="3614.6" class="n" textLength="81.2" lengthAdjust="spacingAndGlyphs">10326</text>
<path fill="#fff" d="M166.7,3615.3L177.7,3594.8L188.7,3615.3z"/>
<text x="85" y="3654.0" class="n" textLength="81.2" lengthAdjust="spacingAndGlyphs">10328</text>
<path fill="#fff" d="M166.7,3654.7L177.7,3634.2L188.7,3654.7z"/>
<text x="85" y="3693.4" class="n" textLength="81.2" lengthAdjust="spacingAndGlyphs">10330</text>
<path fill="#fff" d="M166.7,3694.1L177.7,3673.6L188.7,3694.1z"/>
<text x="506.1" y="204.2" class="n" textLength="74.9" lengthAdjust="spacingAndGlyphs">10710</text>
<path fill="#fff" d="M562.5,231.1h6.0v-6.0h6.6v6.0h6.0v6.6h-6.0v6.0h-6.6v-6.0h-6.0z"/>
<text x="487.1" y="243.9" class="n" textLength="74.9" lengthAdjust="spacingAndGlyphs">10712</text>
<text x="506.1" y="283.6" class="n" textLength="74.9" lengthAdjust="spacingAndGlyphs">10716</text>
<text x="506.1" y="323.3" class="n" textLength="74.9" lengthAdjust="spacingAndGlyphs">10718</text>
<path fill="#fff" d="M562.5,350.1h6.0v-6.0h6.6v6.0h6.0v6.6h-6.0v6.0h-6.6v-6.0h-6.0z"/>
<text x="480.8" y="362.9" class="n" textLength="81.2" lengthAdjust="spacingAndGlyphs">10720</text>
<text x="499.8" y="402.6" class="n" textLength="81.2" lengthAdjust="spacingAndGlyphs">10722</text>
<path fill="#fff" d="M562.5,429.5h6.0v-6.0h6.6v6.0h6.0v6.6h-6.0v6.0h-6.6v-6.0h-6.0z"/>
<text x="480.8" y="442.3" class="n" textLength="81.2" lengthAdjust="spacingAndGlyphs">10726</text>
<text x="499.8" y="482.0" class="n" textLength="81.2" lengthAdjust="spacingAndGlyphs">10728</text>
<path fill="#fff" d="M562.5,508.8h6.0v-6.0h6.6v6.0h6.0v6.6h-6.0v6.0h-6.6v-6.0h-6.0z"/>
<text x="480.8" y="521.6" class="n" textLength="81.2" lengthAdjust="spacingAndGlyphs">10730</text>
<text x="499.8" y="561.3" class="n" textLength="81.2" lengthAdjust="spacingAndGlyphs">10732</text>
<path fill="#fff" d="M562.5,588.2h6.0v-6.0h6.6v6.0h6.0v6.6h-6.0v6.0h-6.6v-6.0h-6.0z"/>
<text x="480.8" y="601.0" class="n" textLength="81.2" lengthAdjust="spacingAndGlyphs">10736</text>
<text x="499.8" y="640.7" class="n" textLength="81.2" lengthAdjust="spacingAndGlyphs">10738</text>
<path fill="#fff" d="M562.5,667.6h6.0v-6.0h6.6v6.0h6.0v6.6h-6.0v6.0h-6.6v-6.0h-6.0z"/>
<text x="480.8" y="680.4" class="n" textLength="81.2" lengthAdjust="spacingAndGlyphs">10740</text>
<path fill="#fff" d="M562.5,707.2h6.0v-6.0h6.6v6.0h6.0v6.6h-6.0v6.0h-6.6v-6.0h-6.0z"/>
<text x="480.8" y="720.0" class="n" textLength="81.2" lengthAdjust="spacingAndGlyphs">10742</text>
<text x="499.8" y="759.7" class="n" textLength="81.2" lengthAdjust="spacingAndGlyphs">10746</text>
<path fill="#fff" d="M562.5,786.6h6.0v-6.0h6.6v6.0h6.0v6.6h-6.0v6.0h-6.6v-6.0h-6.0z"/>
<text x="480.8" y="799.4" class="n" textLength="81.2" lengthAdjust="spacingAndGlyphs">10748</text>
<text x="499.8" y="839.1" class="n" textLength="81.2" lengthAdjust="spacingAndGlyphs">10750</text>
<path fill="#fff" d="M562.5,865.9h6.0v-6.0h6.6v6.0h6.0v6.6h-6.0v6.0h-6.6v-6.0h-6.0z"/>
<text x="480.8" y="878.7" class="n" textLength="81.2" lengthAdjust="spacingAndGlyphs">10752</text>
<text x="499.8" y="918.4" class="n" textLength="81.2" lengthAdjust="spacingAndGlyphs">10756</text>
<path fill="#fff" d="M562.5,945.3h6.0v-6.0h6.6v6.0h6.0v6.6h-6.0v6.0h-6.6v-6.0h-6.0z"/>
<text x="480.8" y="958.1" class="n" textLength="81.2" lengthAdjust="spacingAndGlyphs">10758</text>
<text x="499.8" y="997.8" class="n" textLength="81.2" lengthAdjust="spacingAndGlyphs">10760</text>
<path fill="#fff" d="M562.5,1024.6h6.0v-6.0h6.6v6.0h6.0v6.6h-6.0v6.0h-6.6v-6.0h-6.0z"/>
<text x="480.8" y="1037.4" class="n" textLength="81.2" lengthAdjust="spacingAndGlyphs">10762</text>
<text x="499.8" y="1077.1" class="n" textLength="81.2" lengthAdjust="spacingAndGlyphs">10766</text>
<path fill="#fff" d="M562.5,1104.0h6.0v-6.0h6.6v6.0h6.0v6.6h-6.0v6.0h-6.6v-6.0h-6.0z"/>
<text x="480.8" y="1116.8" class="n" textLength="81.2" lengthAdjust="spacingAndGlyphs">10768</text>
<text x="499.8" y="1156.5" class="n" textLength="81.2" lengthAdjust="spacingAndGlyphs">10770</text>
<path fill="#fff" d="M562.5,1183.3h6.0v-6.0h6.6v6.0h6.0v6.6h-6.0v6.0h-6.6v-6.0h-6.0z"/>
<text x="480.8" y="1196.1" class="n" textLength="81.2" lengthAdjust="spacingAndGlyphs">10772</text>
<text x="499.8" y="1235.8" class="n" textLength="81.2" lengthAdjust="spacingAndGlyphs">10776</text>
<path fill="#fff" d="M562.5,1262.7h6.0v-6.0h6.6v6.0h6.0v6.6h-6.0v6.0h-6.6v-6.0h-6.0z"/>
<text x="480.8" y="1275.5" class="n" textLength="81.2" lengthAdjust="spacingAndGlyphs">10778</text>
<text x="499.8" y="1315.2" class="n" textLength="81.2" lengthAdjust="spacingAndGlyphs">10780</text>
<path fill="#fff" d="M562.5,1342.1h6.0v-6.0h6.6v6.0h6.0v6.6h-6.0v6.0h-6.6v-6.0h-6.0z"/>
<text x="480.8" y="1354.9" class="n" textLength="81.2" lengthAdjust="spacingAndGlyphs">10782</text>
<text x="499.8" y="1394.5" class="n" textLength="81.2" lengthAdjust="spacingAndGlyphs">10786</text>
<path fill="#fff" d="M562.5,1421.4h6.0v-6.0h6.6v6.0h6.0v6.6h-6.0v6.0h-6.6v-6.0h-6.0z"/>
<text x="480.8" y="1434.2" class="n" textLength="81.2" lengthAdjust="spacingAndGlyphs">10788</text>
<text x="499.8" y="1473.9" class="n" textLength="81.2" lengthAdjust="spacingAndGlyphs">10790</text>
<text x="499.8" y="1513.6" class="n" textLength="81.2" lengthAdjust="spacingAndGlyphs">10792</text>
<path fill="#fff" d="M562.5,1540.4h6.0v-6.0h6.6v6.0h6.0v6.6h-6.0v6.0h-6.6v-6.0h-6.0z"/>
<text x="480.8" y="1553.2" class="n" textLength="81.2" lengthAdjust="spacingAndGlyphs">10796</text>
<path fill="#fff" d="M562.5,1580.1h6.0v-6.0h6.6v6.0h6.0v6.6h-6.0v6.0h-6.6v-6.0h-6.0z"/>
<text x="480.8" y="1592.9" class="n" textLength="81.2" lengthAdjust="spacingAndGlyphs">10798</text>
<path fill="#fff" d="M559.0,1633.3L570.0,1612.8L581.0,1633.3z"/>
<text x="477.3" y="1632.6" class="n" textLength="81.2" lengthAdjust="spacingAndGlyphs">10800</text>
<path fill="#fff" d="M562.5,1659.5h6.0v-6.0h6.6v6.0h6.0v6.6h-6.0v6.0h-6.6v-6.0h-6.0z"/>
<text x="480.8" y="1672.3" class="n" textLength="81.2" lengthAdjust="spacingAndGlyphs">10802</text>
<path fill="#fff" d="M559.0,1712.6L570.0,1692.1L581.0,1712.6z"/>
<text x="477.3" y="1711.8" class="n" textLength="81.2" lengthAdjust="spacingAndGlyphs">10806</text>
<path fill="#fff" d="M577.5,1736.3h6.0v-6.0h6.6v6.0h6.0v6.6h-6.0v6.0h-6.6v-6.0h-6.0z"/>
<text x="495.8" y="1749.1" class="n" textLength="81.2" lengthAdjust="spacingAndGlyphs">10808</text>
<path fill="#fff" d="M574.0,1789.2L585.0,1768.7L596.0,1789.2z"/>
<text x="498.6" y="1788.4" class="n" textLength="74.9" lengthAdjust="spacingAndGlyphs">10810</text>
<path fill="#fff" d="M574.0,1828.5L585.0,1808.0L596.0,1828.5z"/>
<text x="498.6" y="1827.8" class="n" textLength="74.9" lengthAdjust="spacingAndGlyphs">10812</text>
<path fill="#fff" d="M577.5,1854.3h6.0v-6.0h6.6v6.0h6.0v6.6h-6.0v6.0h-6.6v-6.0h-6.0z"/>
<text x="502.1" y="1867.1" class="n" textLength="74.9" lengthAdjust="spacingAndGlyphs">10816</text>
<path fill="#fff" d="M574.0,1907.2L585.0,1886.7L596.0,1907.2z"/>
<text x="498.6" y="1906.5" class="n" textLength="74.9" lengthAdjust="spacingAndGlyphs">10818</text>
<path fill="#fff" d="M577.5,1933.0h6.0v-6.0h6.6v6.0h6.0v6.6h-6.0v6.0h-6.6v-6.0h-6.0z"/>
<text x="495.8" y="1945.8" class="n" textLength="81.2" lengthAdjust="spacingAndGlyphs">10820</text>
<path fill="#fff" d="M574.0,1986.0L585.0,1965.5L596.0,1986.0z"/>
<text x="492.3" y="1985.2" class="n" textLength="81.2" lengthAdjust="spacingAndGlyphs">10822</text>
<path fill="#fff" d="M577.5,2011.8h6.0v-6.0h6.6v6.0h6.0v6.6h-6.0v6.0h-6.6v-6.0h-6.0z"/>
<text x="495.8" y="2024.6" class="n" textLength="81.2" lengthAdjust="spacingAndGlyphs">10826</text>
<path fill="#fff" d="M574.0,2064.7L585.0,2044.2L596.0,2064.7z"/>
<text x="492.3" y="2063.9" class="n" textLength="81.2" lengthAdjust="spacingAndGlyphs">10828</text>
<path fill="#fff" d="M577.5,2090.5h6.0v-6.0h6.6v6.0h6.0v6.6h-6.0v6.0h-6.6v-6.0h-6.0z"/>
<text x="495.8" y="2103.3" class="n" textLength="81.2" lengthAdjust="spacingAndGlyphs">10830</text>
<path fill="#fff" d="M574.0,2143.4L585.0,2122.9L596.0,2143.4z"/>
<text x="492.3" y="2142.6" class="n" textLength="81.2" lengthAdjust="spacingAndGlyphs">10832</text>
<path fill="#fff" d="M577.5,2168.5h6.0v-6.0h6.6v6.0h6.0v6.6h-6.0v6.0h-6.6v-6.0h-6.0z"/>
<text x="495.8" y="2181.3" class="n" textLength="81.2" lengthAdjust="spacingAndGlyphs">10836</text>
<path fill="#fff" d="M572.5,2225.2L583.5,2204.7L594.5,2225.2z"/>
<text x="490.8" y="2224.5" class="n" textLength="81.2" lengthAdjust="spacingAndGlyphs">10838</text>
<path fill="#fff" d="M572.5,2264.6L583.5,2244.1L594.5,2264.6z"/>
<text x="490.8" y="2263.9" class="n" textLength="81.2" lengthAdjust="spacingAndGlyphs">10840</text>
<path fill="#fff" d="M572.5,2304.7L583.5,2284.2L594.5,2304.7z"/>
<text x="490.8" y="2303.9" class="n" textLength="81.2" lengthAdjust="spacingAndGlyphs">10842</text>
<path fill="#fff" d="M576.0,2331.2h6.0v-6.0h6.6v6.0h6.0v6.6h-6.0v6.0h-6.6v-6.0h-6.0z"/>
<text x="494.3" y="2344.0" class="n" textLength="81.2" lengthAdjust="spacingAndGlyphs">10846</text>
<path fill="#fff" d="M576.0,2371.2h6.0v-6.0h6.6v6.0h6.0v6.6h-6.0v6.0h-6.6v-6.0h-6.0z"/>
<text x="494.3" y="2384.0" class="n" textLength="81.2" lengthAdjust="spacingAndGlyphs">10848</text>
<path fill="#fff" d="M572.5,2424.8L583.5,2404.3L594.5,2424.8z"/>
<text x="490.8" y="2424.0" class="n" textLength="81.2" lengthAdjust="spacingAndGlyphs">10850</text>
<path fill="#fff" d="M572.5,2464.8L583.5,2444.3L594.5,2464.8z"/>
<text x="490.8" y="2464.1" class="n" textLength="81.2" lengthAdjust="spacingAndGlyphs">10852</text>
<path fill="#fff" d="M572.5,2504.6L583.5,2484.1L594.5,2504.6z"/>
<text x="490.8" y="2503.8" class="n" textLength="81.2" lengthAdjust="spacingAndGlyphs">10856</text>
<path fill="#fff" d="M572.5,2542.7L583.5,2522.2L594.5,2542.7z"/>
<text x="490.8" y="2542.0" class="n" textLength="81.2" lengthAdjust="spacingAndGlyphs">10858</text>
<path fill="#fff" d="M576.0,2568.5h6.0v-6.0h6.6v6.0h6.0v6.6h-6.0v6.0h-6.6v-6.0h-6.0z"/>
<text x="494.3" y="2581.3" class="n" textLength="81.2" lengthAdjust="spacingAndGlyphs">10860</text>
<path fill="#fff" d="M572.5,2621.7L583.5,2601.2L594.5,2621.7z"/>
<text x="490.8" y="2621.0" class="n" textLength="81.2" lengthAdjust="spacingAndGlyphs">10862</text>
<path fill="#fff" d="M576.0,2647.8h6.0v-6.0h6.6v6.0h6.0v6.6h-6.0v6.0h-6.6v-6.0h-6.0z"/>
<text x="494.3" y="2660.6" class="n" textLength="81.2" lengthAdjust="spacingAndGlyphs">10866</text>
<path fill="#fff" d="M572.5,2701.0L583.5,2680.5L594.5,2701.0z"/>
<text x="490.8" y="2700.2" class="n" textLength="81.2" lengthAdjust="spacingAndGlyphs">10868</text>
<path fill="#fff" d="M576.0,2727.0h6.0v-6.0h6.6v6.0h6.0v6.6h-6.0v6.0h-6.6v-6.0h-6.0z"/>
<text x="494.3" y="2739.8" class="n" textLength="81.2" lengthAdjust="spacingAndGlyphs">10870</text>
<path fill="#fff" d="M572.5,2780.2L583.5,2759.7L594.5,2780.2z"/>
<text x="490.8" y="2779.5" class="n" textLength="81.2" lengthAdjust="spacingAndGlyphs">10872</text>
<path fill="#fff" d="M576.0,2805.8h6.0v-6.0h6.6v6.0h6.0v6.6h-6.0v6.0h-6.6v-6.0h-6.0z"/>
<text x="494.3" y="2818.6" class="n" textLength="81.2" lengthAdjust="spacingAndGlyphs">10876</text>
<path fill="#fff" d="M572.5,2861.8L583.5,2841.3L594.5,2861.8z"/>
<text x="490.8" y="2861.0" class="n" textLength="81.2" lengthAdjust="spacingAndGlyphs">10878</text>
<path fill="#fff" d="M572.5,2900.9L583.5,2880.4L594.5,2900.9z"/>
<text x="490.8" y="2900.2" class="n" textLength="81.2" lengthAdjust="spacingAndGlyphs">10880</text>
<path fill="#fff" d="M572.5,2940.3L583.5,2919.8L594.5,2940.3z"/>
<text x="490.8" y="2939.5" class="n" textLength="81.2" lengthAdjust="spacingAndGlyphs">10882</text>
<path fill="#fff" d="M572.5,2977.7L583.5,2957.2L594.5,2977.7z"/>
<text x="490.8" y="2976.9" class="n" textLength="81.2" lengthAdjust="spacingAndGlyphs">10886</text>
<path fill="#fff" d="M572.5,3021.5L583.5,3001.0L594.5,3021.5z"/>
<text x="490.8" y="3020.8" class="n" textLength="81.2" lengthAdjust="spacingAndGlyphs">10888</text>
<path fill="#fff" d="M572.5,3059.8L583.5,3039.3L594.5,3059.8z"/>
<text x="490.8" y="3059.1" class="n" textLength="81.2" lengthAdjust="spacingAndGlyphs">10890</text>
<path fill="#fff" d="M572.5,3100.1L583.5,3079.6L594.5,3100.1z"/>
<text x="490.8" y="3099.4" class="n" textLength="81.2" lengthAdjust="spacingAndGlyphs">10892</text>
<path fill="#fff" d="M572.5,3141.1L583.5,3120.6L594.5,3141.1z"/>
<text x="490.8" y="3140.3" class="n" textLength="81.2" lengthAdjust="spacingAndGlyphs">10896</text>
<path fill="#fff" d="M563.0,3167.7h6.0v-6.0h6.6v6.0h6.0v6.6h-6.0v6.0h-6.6v-6.0h-6.0z"/>
<text x="481.3" y="3180.5" class="n" textLength="81.2" lengthAdjust="spacingAndGlyphs">10898</text>
<path fill="#fff" d="M559.5,3219.8L570.5,3199.3L581.5,3219.8z"/>
<text x="477.8" y="3219.1" class="n" textLength="81.2" lengthAdjust="spacingAndGlyphs">10900</text>
<path fill="#fff" d="M563.0,3245.7h6.0v-6.0h6.6v6.0h6.0v6.6h-6.0v6.0h-6.6v-6.0h-6.0z"/>
<text x="481.3" y="3258.5" class="n" textLength="81.2" lengthAdjust="spacingAndGlyphs">10902</text>
<path fill="#fff" d="M559.5,3298.8L570.5,3278.3L581.5,3298.8z"/>
<text x="477.8" y="3298.0" class="n" textLength="81.2" lengthAdjust="spacingAndGlyphs">10906</text>
<path fill="#fff" d="M563.0,3324.7h6.0v-6.0h6.6v6.0h6.0v6.6h-6.0v6.0h-6.6v-6.0h-6.0z"/>
<text x="481.3" y="3337.5" class="n" textLength="81.2" lengthAdjust="spacingAndGlyphs">10908</text>
<path fill="#fff" d="M559.5,3377.7L570.5,3357.2L581.5,3377.7z"/>
<text x="484.1" y="3377.0" class="n" textLength="74.9" lengthAdjust="spacingAndGlyphs">10910</text>
<path fill="#fff" d="M563.0,3403.6h6.0v-6.0h6.6v6.0h6.0v6.6h-6.0v6.0h-6.6v-6.0h-6.0z"/>
<text x="487.6" y="3416.4" class="n" textLength="74.9" lengthAdjust="spacingAndGlyphs">10912</text>
<path fill="#fff" d="M559.5,3456.7L570.5,3436.2L581.5,3456.7z"/>
<text x="484.1" y="3455.9" class="n" textLength="74.9" lengthAdjust="spacingAndGlyphs">10916</text>
<path fill="#fff" d="M563.0,3482.6h6.0v-6.0h6.6v6.0h6.0v6.6h-6.0v6.0h-6.6v-6.0h-6.0z"/>
<text x="487.6" y="3495.4" class="n" textLength="74.9" lengthAdjust="spacingAndGlyphs">10918</text>
<path fill="#fff" d="M559.5,3536.0L570.5,3515.5L581.5,3536.0z"/>
<text x="477.8" y="3535.3" class="n" textLength="81.2" lengthAdjust="spacingAndGlyphs">10920</text>
<path fill="#fff" d="M573.0,3575.6L584.0,3555.1L595.0,3575.6z"/>
<text x="491.3" y="3574.8" class="n" textLength="81.2" lengthAdjust="spacingAndGlyphs">10922</text>
<path fill="#fff" d="M573.0,3615.3L584.0,3594.8L595.0,3615.3z"/>
<text x="491.3" y="3614.6" class="n" textLength="81.2" lengthAdjust="spacingAndGlyphs">10926</text>
<path fill="#fff" d="M573.0,3654.7L584.0,3634.2L595.0,3654.7z"/>
<text x="491.3" y="3654.0" class="n" textLength="81.2" lengthAdjust="spacingAndGlyphs">10928</text>
<path fill="#fff" d="M573.0,3694.1L584.0,3673.6L595.0,3694.1z"/>
<text x="491.3" y="3693.4" class="n" textLength="81.2" lengthAdjust="spacingAndGlyphs">10930</text>
<text x="85.5" y="3751.4" class="n" textLength="81.2" lengthAdjust="spacingAndGlyphs">10332</text>
<rect fill="#fff" x="171.7" y="3731.1" width="19.6" height="19.6"/>
<text x="85.5" y="3847.4" class="n" textLength="81.2" lengthAdjust="spacingAndGlyphs">10336</text>
<rect fill="#fff" x="171.7" y="3827.1" width="19.6" height="19.6"/>
<text x="85" y="3897.5" class="n" textLength="81.2" lengthAdjust="spacingAndGlyphs">10338</text>
<path fill="#fff" d="M166.7,3898.3L177.7,3877.8L188.7,3898.3z"/>
<text x="85" y="3937.5" class="n" textLength="81.2" lengthAdjust="spacingAndGlyphs">10340</text>
<path fill="#fff" d="M166.7,3938.3L177.7,3917.8L188.7,3938.3z"/>
<text x="107" y="3976.4" class="n" textLength="81.2" lengthAdjust="spacingAndGlyphs">10342</text>
<path fill="#fff" d="M188.7,3977.2L199.7,3956.7L210.7,3977.2z"/>
<text x="107" y="4014.7" class="n" textLength="81.2" lengthAdjust="spacingAndGlyphs">10346</text>
<path fill="#fff" d="M188.7,4001.9h6.0v-6.0h6.6v6.0h6.0v6.6h-6.0v6.0h-6.6v-6.0h-6.0z"/>
<text x="107" y="4053.7" class="n" textLength="81.2" lengthAdjust="spacingAndGlyphs">10348</text>
<path fill="#fff" d="M188.7,4054.4L199.7,4033.9L210.7,4054.4z"/>
<text x="107" y="4092.5" class="n" textLength="81.2" lengthAdjust="spacingAndGlyphs">10350</text>
<path fill="#fff" d="M188.7,4079.7h6.0v-6.0h6.6v6.0h6.0v6.6h-6.0v6.0h-6.6v-6.0h-6.0z"/>
<text x="107" y="4131.5" class="n" textLength="81.2" lengthAdjust="spacingAndGlyphs">10352</text>
<path fill="#fff" d="M188.7,4132.2L199.7,4111.7L210.7,4132.2z"/>
<text x="107" y="4170.4" class="n" textLength="81.2" lengthAdjust="spacingAndGlyphs">10356</text>
<path fill="#fff" d="M188.7,4157.6h6.0v-6.0h6.6v6.0h6.0v6.6h-6.0v6.0h-6.6v-6.0h-6.0z"/>
<text x="107" y="4209.2" class="n" textLength="81.2" lengthAdjust="spacingAndGlyphs">10358</text>
<path fill="#fff" d="M188.7,4210.0L199.7,4189.5L210.7,4210.0z"/>
<text x="107" y="4248.2" class="n" textLength="81.2" lengthAdjust="spacingAndGlyphs">10360</text>
<path fill="#fff" d="M188.7,4235.4h6.0v-6.0h6.6v6.0h6.0v6.6h-6.0v6.0h-6.6v-6.0h-6.0z"/>
<text x="107" y="4287.1" class="n" textLength="81.2" lengthAdjust="spacingAndGlyphs">10362</text>
<path fill="#fff" d="M188.7,4287.9L199.7,4267.4L210.7,4287.9z"/>
<rect fill="#fff" x="575.1" y="3731.1" width="19.6" height="19.6"/>
<text x="491.9" y="3751.4" class="n" textLength="81.2" lengthAdjust="spacingAndGlyphs">10932</text>
<rect fill="#fff" x="575.1" y="3827.1" width="19.6" height="19.6"/>
<text x="491.9" y="3847.4" class="n" textLength="81.2" lengthAdjust="spacingAndGlyphs">10936</text>
<path fill="#fff" d="M572.7,3898.3L583.7,3877.8L594.7,3898.3z"/>
<text x="491.0" y="3897.5" class="n" textLength="81.2" lengthAdjust="spacingAndGlyphs">10938</text>
<path fill="#fff" d="M572.7,3938.3L583.7,3917.8L594.7,3938.3z"/>
<text x="491.0" y="3937.5" class="n" textLength="81.2" lengthAdjust="spacingAndGlyphs">10940</text>
<path fill="#fff" d="M562.5,3963.6h6.0v-6.0h6.6v6.0h6.0v6.6h-6.0v6.0h-6.6v-6.0h-6.0z"/>
<text x="480.8" y="3976.4" class="n" textLength="81.2" lengthAdjust="spacingAndGlyphs">10942</text>
<path fill="#fff" d="M559.0,4015.5L570.0,3995.0L581.0,4015.5z"/>
<text x="477.3" y="4014.7" class="n" textLength="81.2" lengthAdjust="spacingAndGlyphs">10946</text>
<path fill="#fff" d="M559.0,4054.4L570.0,4033.9L581.0,4054.4z"/>
<text x="477.3" y="4053.7" class="n" textLength="81.2" lengthAdjust="spacingAndGlyphs">10948</text>
<path fill="#fff" d="M562.5,4079.7h6.0v-6.0h6.6v6.0h6.0v6.6h-6.0v6.0h-6.6v-6.0h-6.0z"/>
<text x="480.8" y="4092.5" class="n" textLength="81.2" lengthAdjust="spacingAndGlyphs">10950</text>
<path fill="#fff" d="M559.0,4132.2L570.0,4111.7L581.0,4132.2z"/>
<text x="477.3" y="4131.5" class="n" textLength="81.2" lengthAdjust="spacingAndGlyphs">10952</text>
<path fill="#fff" d="M562.5,4157.6h6.0v-6.0h6.6v6.0h6.0v6.6h-6.0v6.0h-6.6v-6.0h-6.0z"/>
<text x="480.8" y="4170.4" class="n" textLength="81.2" lengthAdjust="spacingAndGlyphs">10956</text>
<path fill="#fff" d="M559.0,4210.0L570.0,4189.5L581.0,4210.0z"/>
<text x="477.3" y="4209.2" class="n" textLength="81.2" lengthAdjust="spacingAndGlyphs">10958</text>
<path fill="#fff" d="M562.5,4235.4h6.0v-6.0h6.6v6.0h6.0v6.6h-6.0v6.0h-6.6v-6.0h-6.0z"/>
<text x="480.8" y="4248.2" class="n" textLength="81.2" lengthAdjust="spacingAndGlyphs">10960</text>
<path fill="#fff" d="M559.0,4287.9L570.0,4267.4L581.0,4287.9z"/>
<text x="477.3" y="4287.1" class="n" textLength="81.2" lengthAdjust="spacingAndGlyphs">10962</text>
<rect x="247" y="176.8" width="92.6" height="35.6" fill="#bcc388"/>
<text x="259" y="204.2" class="i" textLength="62.9" lengthAdjust="spacingAndGlyphs">10501</text>
<rect x="247" y="214.0" width="92.6" height="37.6" fill="#bcc388"/>
<text x="259" y="242.4" class="i" textLength="69.2" lengthAdjust="spacingAndGlyphs">10505</text>
<rect x="247" y="253.2" width="92.6" height="37.7" fill="#bcc388"/>
<text x="259" y="281.6" class="i" textLength="69.2" lengthAdjust="spacingAndGlyphs">10509</text>
<rect x="247" y="292.5" width="92.6" height="38.6" fill="#bcc388"/>
<text x="259" y="321.4" class="i" textLength="62.9" lengthAdjust="spacingAndGlyphs">10513</text>
<rect x="247" y="332.7" width="92.6" height="38.2" fill="#bcc388"/>
<text x="259" y="361.4" class="i" textLength="62.9" lengthAdjust="spacingAndGlyphs">10517</text>
<rect x="247" y="372.5" width="92.6" height="38.5" fill="#bcc388"/>
<text x="259" y="401.4" class="i" textLength="62.9" lengthAdjust="spacingAndGlyphs">10521</text>
<rect x="247" y="412.6" width="92.6" height="38.9" fill="#bcc388"/>
<text x="259" y="441.7" class="i" textLength="69.2" lengthAdjust="spacingAndGlyphs">10525</text>
<rect x="357.4" y="176.8" width="83" height="35.6" fill="#bcc388"/>
<text x="368" y="204.2" class="i" textLength="69.2" lengthAdjust="spacingAndGlyphs">10503</text>
<rect x="357.4" y="214.0" width="83" height="37.6" fill="#bcc388"/>
<text x="368" y="242.4" class="i" textLength="69.2" lengthAdjust="spacingAndGlyphs">10507</text>
<rect x="357.4" y="253.2" width="83" height="37.7" fill="#bcc388"/>
<text x="368" y="281.6" class="i" textLength="56.6" lengthAdjust="spacingAndGlyphs">10511</text>
<rect x="357.4" y="292.5" width="83" height="38.6" fill="#bcc388"/>
<text x="368" y="321.4" class="i" textLength="62.9" lengthAdjust="spacingAndGlyphs">10515</text>
<rect x="357.4" y="332.7" width="83" height="38.2" fill="#bcc388"/>
<text x="368" y="361.4" class="i" textLength="62.9" lengthAdjust="spacingAndGlyphs">10519</text>
<rect x="357.4" y="372.5" width="83" height="38.5" fill="#bcc388"/>
<text x="368" y="401.4" class="i" textLength="69.2" lengthAdjust="spacingAndGlyphs">10523</text>
<rect x="357.4" y="412.6" width="83" height="39.7" fill="#bcc388"/>
<text x="368" y="442.1" class="i" textLength="69.2" lengthAdjust="spacingAndGlyphs">10527</text>
<rect x="357.4" y="453.9" width="83" height="39.0" fill="#bcc388"/>
<text x="368" y="483.0" class="i" textLength="69.2" lengthAdjust="spacingAndGlyphs">10529</text>
<rect x="357.4" y="494.5" width="83" height="34.5" fill="#bcc388"/>
<text x="368" y="521.4" class="i" textLength="62.9" lengthAdjust="spacingAndGlyphs">10531</text>
<path class="r" d="M244.9,452.6 L244.9,173.8 L339.6,173.8"/>
<path class="r" d="M357.4,173.8 L443.6,173.8 L443.6,531.5 L357.4,531.5"/>
<circle cx="348.2" cy="321.5" r="5" fill="#fff" stroke="#111" stroke-width="2.2"/>
<circle cx="352.9" cy="1037" r="5" fill="#fff" stroke="#111" stroke-width="2.2"/>
<path class="g" d="M338.8,452 L338.8,555 L443.5,555 L443.5,683 L244.5,685 L244.5,451"/>
<path fill="#8cadc9" d="M247,695 L343,695 L343,769.3 L321.4,769.3 L321.4,791.3 L343,791.3 L343,833.6 L303,833.6 L303,865.6 L343,865.6 L343,903.6 L321.4,903.6 L321.4,925.6 L343,925.6 L343,985.6 L303.7,985.6 L303.7,1004.4 L247,1004.4Z"/>
<rect x="247" y="849.2" width="56" height="1.7" fill="#fff"/>
<text x="256.6" y="731.3" class="s" textLength="78.8" lengthAdjust="spacingAndGlyphs">10533</text>
<polygon points="269.4,737.3 272.8,746.6 282.7,747.0 274.9,753.1 277.6,762.6 269.4,757.1 261.2,762.6 263.9,753.1 256.1,747.0 266.0,746.6" fill="none" stroke="#fff" stroke-width="2.2" stroke-linejoin="miter"/>
<text x="256.6" y="895.0" class="s" textLength="78.8" lengthAdjust="spacingAndGlyphs">10537</text>
<polygon points="269.4,901.0 272.8,910.3 282.7,910.7 274.9,916.8 277.6,926.3 269.4,920.8 261.2,926.3 263.9,916.8 256.1,910.7 266.0,910.3" fill="none" stroke="#fff" stroke-width="2.2" stroke-linejoin="miter"/>
<path fill="#8cadc9" d="M247,1086.6 L343,1086.6 L343,1140.9 L321.4,1140.9 L321.4,1162 L343,1162 L343,1225.7 L303.1,1225.7 L303.1,1258.6 L343,1258.6 L343,1321.4 L321.4,1321.4 L321.4,1344.3 L343,1344.3 L343,1397.5 L247,1397.5Z"/>
<rect x="247" y="1242" width="56" height="1.7" fill="#fff"/>
<text x="256.6" y="1132.9" class="s" textLength="78.8" lengthAdjust="spacingAndGlyphs">10543</text>
<polygon points="269.4,1140.3 272.8,1149.6 282.7,1150.0 274.9,1156.1 277.6,1165.6 269.4,1160.1 261.2,1165.6 263.9,1156.1 256.1,1150.0 266.0,1149.6" fill="none" stroke="#fff" stroke-width="2.2" stroke-linejoin="miter"/>
<text x="256.6" y="1314.3" class="s" textLength="78.8" lengthAdjust="spacingAndGlyphs">10547</text>
<polygon points="269.4,1320.3 272.8,1329.6 282.7,1330.0 274.9,1336.1 277.6,1345.6 269.4,1340.1 261.2,1345.6 263.9,1336.1 256.1,1330.0 266.0,1329.6" fill="none" stroke="#fff" stroke-width="2.2" stroke-linejoin="miter"/>
<path class="r" d="M244.8,687 L244.8,1004"/>
<path class="r" d="M244.8,1084.3 L244.8,1399.5 L343,1399.5"/>
<rect x="364.3" y="718.7" width="76.3" height="664.3" fill="#8cadc9"/>
<rect x="363.3" y="758" width="21.8" height="25.6" fill="#fff"/>
<text x="366.9" y="747.3" class="s2" textLength="71.9" lengthAdjust="spacingAndGlyphs">10535</text>
<polygon points="424.3,752.4 427.7,761.7 437.6,762.1 429.8,768.2 432.5,777.7 424.3,772.2 416.1,777.7 418.8,768.2 411.0,762.1 420.9,761.7" fill="none" stroke="#fff" stroke-width="2.2" stroke-linejoin="miter"/>
<rect x="364.3" y="881.2" width="76.3" height="1.8" fill="#fff"/>
<rect x="363.3" y="925" width="21.8" height="29" fill="#fff"/>
<text x="366.9" y="915.0" class="s2" textLength="71.9" lengthAdjust="spacingAndGlyphs">10539</text>
<polygon points="424.3,919.0 427.7,928.3 437.6,928.7 429.8,934.8 432.5,944.3 424.3,938.8 416.1,944.3 418.8,934.8 411.0,928.7 420.9,928.3" fill="none" stroke="#fff" stroke-width="2.2" stroke-linejoin="miter"/>
<rect x="364.3" y="1049.1" width="76.3" height="1.8" fill="#fff"/>
<rect x="363.3" y="1091.4" width="21.8" height="30" fill="#fff"/>
<text x="372.5" y="1079.4" class="s2" textLength="66.3" lengthAdjust="spacingAndGlyphs">10541</text>
<polygon points="424.3,1086.0 427.7,1095.3 437.6,1095.7 429.8,1101.8 432.5,1111.3 424.3,1105.8 416.1,1111.3 418.8,1101.8 411.0,1095.7 420.9,1095.3" fill="none" stroke="#fff" stroke-width="2.2" stroke-linejoin="miter"/>
<rect x="364.3" y="1216.2" width="76.3" height="1.8" fill="#fff"/>
<rect x="363.3" y="1258.6" width="21.8" height="30" fill="#fff"/>
<text x="366.9" y="1248.6" class="s2" textLength="71.9" lengthAdjust="spacingAndGlyphs">10545</text>
<polygon points="424.3,1254.6 427.7,1263.9 437.6,1264.3 429.8,1270.4 432.5,1279.9 424.3,1274.4 416.1,1279.9 418.8,1270.4 411.0,1264.3 420.9,1263.9" fill="none" stroke="#fff" stroke-width="2.2" stroke-linejoin="miter"/>
<path class="r" d="M364.3,713 L443.8,713 L443.8,1384.5"/>
<path class="g" d="M245,1004 L245,1086"/>
<path class="g" d="M340.2,986 L340.2,1086.6"/>
<path class="g" d="M244.3,1665 L244.3,1418.6 L361.4,1418.6 L361.4,1387 L442.5,1387 L442.5,1686"/>
<path class="g" d="M286.7,1639 L286.7,1561 L405.7,1561 L405.7,1639 L286.7,1639 M346.2,1561 L346.2,1639 M244.3,1621.5 L286.7,1621.5"/>
<path class="g" d="M442.5,1561 L422.2,1561 L422.2,1621.5 L405.7,1621.5"/>
<path d="M286.7,1585.0 L405.7,1585.0" stroke="#9a9a9a" stroke-width="0.9" fill="none"/>
<path d="M286.7,1589.6 L405.7,1589.6" stroke="#9a9a9a" stroke-width="0.9" fill="none"/>
<path d="M286.7,1594.2 L405.7,1594.2" stroke="#9a9a9a" stroke-width="0.9" fill="none"/>
<path d="M286.7,1598.8 L405.7,1598.8" stroke="#9a9a9a" stroke-width="0.9" fill="none"/>
<path d="M286.7,1603.4 L405.7,1603.4" stroke="#9a9a9a" stroke-width="0.9" fill="none"/>
<path d="M286.7,1608.0 L405.7,1608.0" stroke="#9a9a9a" stroke-width="0.9" fill="none"/>
<path d="M286.7,1612.6 L405.7,1612.6" stroke="#9a9a9a" stroke-width="0.9" fill="none"/>
<path d="M286.7,1617.2 L405.7,1617.2" stroke="#9a9a9a" stroke-width="0.9" fill="none"/>
<path d="M287.2,1621.8 L405.2,1621.8" stroke="#9a9a9a" stroke-width="0.9" fill="none"/>
<path d="M294.5,1626.4 L398.2,1626.4" stroke="#9a9a9a" stroke-width="0.9" fill="none"/>
<path d="M301.8,1631.0 L391.1,1631.0" stroke="#9a9a9a" stroke-width="0.9" fill="none"/>
<path class="g" d="M286.7,1621.5 L313,1638.5 M405.7,1621.5 L380.4,1638.5"/>
<rect x="315.8" y="1579.7" width="3.4" height="62.5" fill="#fff" stroke="#6e6e6e" stroke-width="1"/>
<rect x="373.1" y="1579.7" width="3.4" height="62.5" fill="#fff" stroke="#6e6e6e" stroke-width="1"/>
<path class="g" d="M259.3,1693.0 h45.3 v39.2 h-45.3 z M259.3,1693.0 L304.6,1732.2 M304.6,1693.0 L259.3,1732.2"/>
<path class="g" d="M259.3,1732.2 h45.3 v39.2 h-45.3 z M259.3,1732.2 L304.6,1771.4 M304.6,1732.2 L259.3,1771.4"/>
<path class="g" d="M259.3,1771.4 h45.3 v39.2 h-45.3 z M259.3,1771.4 L304.6,1810.6 M304.6,1771.4 L259.3,1810.6"/>
<path class="g" d="M259.3,1810.6 h45.3 v39.2 h-45.3 z M259.3,1810.6 L304.6,1849.8 M304.6,1810.6 L259.3,1849.8"/>
<rect x="259.3" y="1693" width="45.3" height="156.8" fill="none" stroke="#646464" stroke-width="2.2"/>
<path class="g" d="M380.4,1693.0 h45.3 v39.2 h-45.3 z M380.4,1693.0 L425.7,1732.2 M425.7,1693.0 L380.4,1732.2"/>
<path class="g" d="M380.4,1732.2 h45.3 v39.2 h-45.3 z M380.4,1732.2 L425.7,1771.4 M425.7,1732.2 L380.4,1771.4"/>
<path class="g" d="M380.4,1771.4 h45.3 v39.2 h-45.3 z M380.4,1771.4 L425.7,1810.6 M425.7,1771.4 L380.4,1810.6"/>
<path class="g" d="M380.4,1810.6 h45.3 v39.2 h-45.3 z M380.4,1810.6 L425.7,1849.8 M425.7,1810.6 L380.4,1849.8"/>
<rect x="380.4" y="1693" width="45.3" height="156.8" fill="none" stroke="#646464" stroke-width="2.2"/>
<path class="g" d="M242,1686 L313.5,1686 L313.5,1693 L305,1693 M380,1693 L372.5,1693 L372.5,1686.5 L442.5,1686.5"/>
<path class="g" d="M259.5,1849.8 L425.7,1849.8"/>
<path class="g" d="M242.3,1686 L242.3,2183 L222,2260.5 L222,2463 L243.5,2518 L243.5,2831 L230,2871 L230,3106 L243.5,3148.5 L243.5,3571 L313.5,3571 L313.5,3563.5 L305,3563.5"/>
<path class="g" d="M442.5,1686 L442.5,2190.5 L462.5,2248 L462.5,2453 L441.5,2520 L441.5,2831 L455,2871 L455,3103.5 L441.5,3148.5 L441.5,3571 L372.5,3571 L372.5,3563.5 L380,3563.5"/>
<path class="g" d="M243.5,3383.5 L313.5,3383.5 L313.5,3406 L372.5,3406 L372.5,3383.5 L441.5,3383.5 M305,3406 L313.5,3406 M372.5,3406 L380,3406"/>
<path class="g" d="M259.3,3407.0 h45.3 v39.2 h-45.3 z M259.3,3407.0 L304.6,3446.2 M304.6,3407.0 L259.3,3446.2"/>
<path class="g" d="M259.3,3446.2 h45.3 v39.2 h-45.3 z M259.3,3446.2 L304.6,3485.4 M304.6,3446.2 L259.3,3485.4"/>
<path class="g" d="M259.3,3485.4 h45.3 v39.2 h-45.3 z M259.3,3485.4 L304.6,3524.6 M304.6,3485.4 L259.3,3524.6"/>
<path class="g" d="M259.3,3524.6 h45.3 v39.2 h-45.3 z M259.3,3524.6 L304.6,3563.8 M304.6,3524.6 L259.3,3563.8"/>
<rect x="259.3" y="3407" width="45.3" height="156.8" fill="none" stroke="#646464" stroke-width="2.2"/>
<path class="g" d="M380.4,3407.0 h45.3 v39.2 h-45.3 z M380.4,3407.0 L425.7,3446.2 M425.7,3407.0 L380.4,3446.2"/>
<path class="g" d="M380.4,3446.2 h45.3 v39.2 h-45.3 z M380.4,3446.2 L425.7,3485.4 M425.7,3446.2 L380.4,3485.4"/>
<path class="g" d="M380.4,3485.4 h45.3 v39.2 h-45.3 z M380.4,3485.4 L425.7,3524.6 M425.7,3485.4 L380.4,3524.6"/>
<path class="g" d="M380.4,3524.6 h45.3 v39.2 h-45.3 z M380.4,3524.6 L425.7,3563.8 M425.7,3524.6 L380.4,3563.8"/>
<rect x="380.4" y="3407" width="45.3" height="156.8" fill="none" stroke="#646464" stroke-width="2.2"/>
<path class="g2" d="M243.2,4187.5 L243.2,3943 L222,3893.2 L222,3622.6 L236.6,3622.6 L236.6,3701.2 L294.6,3701.2 L294.6,3614.5 L388.8,3614.5 L388.8,3701.2 L446.8,3701.2 L446.8,3622.6 L461.5,3622.6 L461.5,3897.5 L444,3940 L444,4187.5"/>
<path class="g2" d="M236.6,3634.8 L294.6,3634.8 M388.8,3634.8 L446.8,3634.8"/>
<path d="M263.8,3639.0 L294.6,3639.0 M388.8,3639.0 L419.6,3639.0" stroke="#8a8a8a" stroke-width="1" fill="none"/>
<path d="M253.6,3643.7 L294.6,3643.7 M388.8,3643.7 L429.8,3643.7" stroke="#8a8a8a" stroke-width="1" fill="none"/>
<path d="M243.4,3648.3 L294.6,3648.3 M388.8,3648.3 L440.0,3648.3" stroke="#8a8a8a" stroke-width="1" fill="none"/>
<path d="M236.6,3652.9 L294.6,3652.9 M388.8,3652.9 L446.8,3652.9" stroke="#8a8a8a" stroke-width="1" fill="none"/>
<path d="M236.6,3657.6 L294.6,3657.6 M388.8,3657.6 L446.8,3657.6" stroke="#8a8a8a" stroke-width="1" fill="none"/>
<path d="M236.6,3662.2 L294.6,3662.2 M388.8,3662.2 L446.8,3662.2" stroke="#8a8a8a" stroke-width="1" fill="none"/>
<path d="M236.6,3666.9 L294.6,3666.9 M388.8,3666.9 L446.8,3666.9" stroke="#8a8a8a" stroke-width="1" fill="none"/>
<path d="M236.6,3671.6 L294.6,3671.6 M388.8,3671.6 L446.8,3671.6" stroke="#8a8a8a" stroke-width="1" fill="none"/>
<path d="M236.6,3676.2 L294.6,3676.2 M388.8,3676.2 L446.8,3676.2" stroke="#8a8a8a" stroke-width="1" fill="none"/>
<path d="M236.6,3680.8 L294.6,3680.8 M388.8,3680.8 L446.8,3680.8" stroke="#8a8a8a" stroke-width="1" fill="none"/>
<path d="M236.6,3685.5 L294.6,3685.5 M388.8,3685.5 L446.8,3685.5" stroke="#8a8a8a" stroke-width="1" fill="none"/>
<path class="g" d="M236.6,3651.4 L263.75,3639 M446.8,3651.4 L419.6,3639"/>
<rect x="262.79999999999995" y="3631.5" width="3.2" height="60" fill="#fff" stroke="#6e6e6e" stroke-width="1.1"/>
<rect x="417.0" y="3631.5" width="3.2" height="60" fill="#fff" stroke="#6e6e6e" stroke-width="1.1"/>
<path d="M203,3771.6 L203,3799.4 M486.5,3771.6 L486.5,3799.4" stroke="#6e6e6e" stroke-width="1.6" fill="none"/>
<rect x="243.5" y="4188.3" width="39.3" height="110.2" fill="#bcc388"/>
<text transform="translate(273.4,4295.7) rotate(-90)" class="iv" textLength="73.4" lengthAdjust="spacingAndGlyphs">10601</text>
<path fill="#fff" d="M253.8,4206.5h7.7v-7.7h5.6v7.7h7.7v5.6h-7.7v7.7h-5.6v-7.7h-7.7z"/>
<rect x="286.7" y="4188.3" width="40.2" height="110.2" fill="#bcc388"/>
<text transform="translate(317.0,4295.7) rotate(-90)" class="iv" textLength="79.6" lengthAdjust="spacingAndGlyphs">10603</text>
<path fill="#fff" d="M297.4,4200.3h7.7v-7.7h5.6v7.7h7.7v5.6h-7.7v7.7h-5.6v-7.7h-7.7z"/>
<rect x="358.3" y="4188.3" width="40.2" height="110.2" fill="#bcc388"/>
<text transform="translate(388.6,4295.7) rotate(-90)" class="iv" textLength="79.6" lengthAdjust="spacingAndGlyphs">10605</text>
<path fill="#fff" d="M369.0,4200.3h7.7v-7.7h5.6v7.7h7.7v5.6h-7.7v7.7h-5.6v-7.7h-7.7z"/>
<rect x="402.4" y="4188.3" width="39.1" height="110.2" fill="#bcc388"/>
<text transform="translate(432.2,4295.7) rotate(-90)" class="iv" textLength="79.6" lengthAdjust="spacingAndGlyphs">10607</text>
<path fill="#fff" d="M412.6,4200.3h7.7v-7.7h5.6v7.7h7.7v5.6h-7.7v7.7h-5.6v-7.7h-7.7z"/>
<path class="r" d="M242.6,4187 L242.6,4300 M443.8,4187 L443.8,4300"/>
<path class="g" d="M327,4297.5 L358.3,4297.5 M326.9,4188.3 L358.3,4188.3 M327.3,4334.5 L352,4334.5 M327.3,4439.5 L352,4439.5"/>
<path fill="#1ca0d3" d="M88.5,4298 L210,4298 L210,4317 L197.5,4317 L197.5,4433 L104,4424.5 Q88.5,4422 88.5,4408Z"/>
<path fill="#1ca0d3" d="M594.5,4300 L469.3,4300 L469.3,4319 L482.5,4319 L482.5,4434 L582,4425.5 Q594.5,4423 594.5,4408Z"/>
<text transform="translate(159.3,4412.5) rotate(-90)" class="v" textLength="72.3" lengthAdjust="spacingAndGlyphs">10366</text>
<path fill="#fff" d="M141.2,4318.4h6.0v-6.0h6.6v6.0h6.0v6.6h-6.0v6.0h-6.6v-6.0h-6.0z"/>
<text transform="translate(542.9,4412.5) rotate(-90)" class="v" textLength="72.3" lengthAdjust="spacingAndGlyphs">10966</text>
<path fill="#fff" d="M524.8,4318.4h6.0v-6.0h6.6v6.0h6.0v6.6h-6.0v6.0h-6.6v-6.0h-6.0z"/>
<path fill="#d4147f" d="M202,4318 L237.8,4318 L237.8,4436 L202,4434Z"/>
<path fill="#d4147f" d="M441.5,4320 L482.5,4320 L482.5,4435 L441.5,4437Z"/>
<text transform="translate(229.9,4425.5) rotate(-90)" class="v" textLength="81.2" lengthAdjust="spacingAndGlyphs">10368</text>
<path fill="#fff" d="M230.5,4343.8L230.5,4322.8L210.0,4333.3z"/>
<text transform="translate(470.3,4429) rotate(-90)" class="v" textLength="81.2" lengthAdjust="spacingAndGlyphs">10968</text>
<path fill="#fff" d="M470.9,4347.3L470.9,4326.3L450.4,4336.8z"/>
<path fill="#057a8f" d="M241.7,4330 L327.3,4330 L327.3,4440 L241.7,4437Z"/>
<path fill="#057a8f" d="M352,4330 L438.7,4330 L438.7,4437 L352,4441Z"/>
<text transform="translate(274.5,4425.5) rotate(-90)" class="v" textLength="77.5" lengthAdjust="spacingAndGlyphs">10370</text>
<text transform="translate(397.9,4429) rotate(-90)" class="v" textLength="77.5" lengthAdjust="spacingAndGlyphs">10970</text>
<rect x="282.3" y="4409.4" width="21.5" height="20" fill="#fff"/>
<rect x="405.7" y="4411.4" width="22.5" height="20" fill="#fff"/>
<path d="M98,1629.3236842105264 L98,1653.3236842105264" stroke="#fff" stroke-width="2.6" fill="none"/>
<path d="M93.2,1633.8236842105264 L98,1628.3236842105264 L102.8,1633.8236842105264 M93.2,1648.8236842105264 L98,1654.3236842105264 L102.8,1648.8236842105264" stroke="#fff" stroke-width="2.6" fill="none" stroke-linejoin="miter"/>
<path d="M588.5,1629.3236842105264 L588.5,1653.3236842105264" stroke="#fff" stroke-width="2.6" fill="none"/>
<path d="M583.7,1633.8236842105264 L588.5,1628.3236842105264 L593.3,1633.8236842105264 M583.7,1648.8236842105264 L588.5,1654.3236842105264 L593.3,1648.8236842105264" stroke="#fff" stroke-width="2.6" fill="none" stroke-linejoin="miter"/>
<path d="M83,1787.2083333333333 L83,1811.2083333333333" stroke="#fff" stroke-width="2.6" fill="none"/>
<path d="M78.2,1791.7083333333333 L83,1786.2083333333333 L87.8,1791.7083333333333 M78.2,1806.7083333333333 L83,1812.2083333333333 L87.8,1806.7083333333333" stroke="#fff" stroke-width="2.6" fill="none" stroke-linejoin="miter"/>
<path d="M604,1787.2083333333333 L604,1811.2083333333333" stroke="#fff" stroke-width="2.6" fill="none"/>
<path d="M599.2,1791.7083333333333 L604,1786.2083333333333 L608.8,1791.7083333333333 M599.2,1806.7083333333333 L604,1812.2083333333333 L608.8,1806.7083333333333" stroke="#fff" stroke-width="2.6" fill="none" stroke-linejoin="miter"/>
<path d="M83,1865.9166666666667 L83,1889.9166666666667" stroke="#fff" stroke-width="2.6" fill="none"/>
<path d="M78.2,1870.4166666666667 L83,1864.9166666666667 L87.8,1870.4166666666667 M78.2,1885.4166666666667 L83,1890.9166666666667 L87.8,1885.4166666666667" stroke="#fff" stroke-width="2.6" fill="none" stroke-linejoin="miter"/>
<path d="M604,1865.9166666666667 L604,1889.9166666666667" stroke="#fff" stroke-width="2.6" fill="none"/>
<path d="M599.2,1870.4166666666667 L604,1864.9166666666667 L608.8,1870.4166666666667 M599.2,1885.4166666666667 L604,1890.9166666666667 L608.8,1885.4166666666667" stroke="#fff" stroke-width="2.6" fill="none" stroke-linejoin="miter"/>
<path d="M77,2260.8125 L77,2284.8125" stroke="#fff" stroke-width="2.6" fill="none"/>
<path d="M72.2,2265.3125 L77,2259.8125 L81.8,2265.3125 M72.2,2280.3125 L77,2285.8125 L81.8,2280.3125" stroke="#fff" stroke-width="2.6" fill="none" stroke-linejoin="miter"/>
<path d="M606,2260.8125 L606,2284.8125" stroke="#fff" stroke-width="2.6" fill="none"/>
<path d="M601.2,2265.3125 L606,2259.8125 L610.8,2265.3125 M601.2,2280.3125 L606,2285.8125 L610.8,2280.3125" stroke="#fff" stroke-width="2.6" fill="none" stroke-linejoin="miter"/>
<path d="M77,2420.9375 L77,2444.9375" stroke="#fff" stroke-width="2.6" fill="none"/>
<path d="M72.2,2425.4375 L77,2419.9375 L81.8,2425.4375 M72.2,2440.4375 L77,2445.9375 L81.8,2440.4375" stroke="#fff" stroke-width="2.6" fill="none" stroke-linejoin="miter"/>
<path d="M606,2420.9375 L606,2444.9375" stroke="#fff" stroke-width="2.6" fill="none"/>
<path d="M601.2,2425.4375 L606,2419.9375 L610.8,2425.4375 M601.2,2440.4375 L606,2445.9375 L610.8,2440.4375" stroke="#fff" stroke-width="2.6" fill="none" stroke-linejoin="miter"/>
<path d="M98,4244.5 L98,4268.5" stroke="#fff" stroke-width="2.6" fill="none"/>
<path d="M93.2,4249.0 L98,4243.5 L102.8,4249.0 M93.2,4264.0 L98,4269.5 L102.8,4264.0" stroke="#fff" stroke-width="2.6" fill="none" stroke-linejoin="miter"/>
<path d="M588.5,4244.5 L588.5,4268.5" stroke="#fff" stroke-width="2.6" fill="none"/>
<path d="M583.7,4249.0 L588.5,4243.5 L593.3,4249.0 M583.7,4264.0 L588.5,4269.5 L593.3,4264.0" stroke="#fff" stroke-width="2.6" fill="none" stroke-linejoin="miter"/>
</svg>
</body></html>
